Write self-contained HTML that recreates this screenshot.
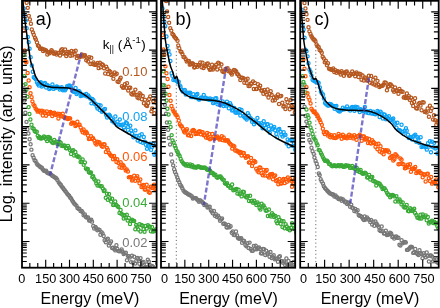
<!DOCTYPE html><html><head><meta charset="utf-8"><style>html,body{margin:0;padding:0;background:#fff;overflow:hidden}svg{display:block;will-change:transform}text{font-family:"Liberation Sans",sans-serif}</style></head><body>
<svg width="440" height="308" viewBox="0 0 440 308">
<defs><clipPath id="clipa"><rect x="22.0" y="0.8" width="134.60" height="266.90"/></clipPath></defs>
<g clip-path="url(#clipa)"><g fill="none" stroke="#777777" stroke-width="1.25"><circle cx="23.57" cy="85.30" r="1.6"/><circle cx="24.39" cy="100.40" r="1.6"/><circle cx="25.35" cy="112.71" r="1.6"/><circle cx="26.48" cy="121.88" r="1.6"/><circle cx="27.43" cy="129.18" r="1.6"/><circle cx="28.43" cy="133.56" r="1.6"/><circle cx="29.61" cy="139.27" r="1.6"/><circle cx="30.57" cy="144.18" r="1.6"/><circle cx="31.40" cy="149.64" r="1.6"/><circle cx="32.58" cy="155.28" r="1.6"/><circle cx="33.62" cy="157.80" r="1.6"/><circle cx="34.61" cy="160.30" r="1.6"/><circle cx="35.56" cy="161.03" r="1.6"/><circle cx="36.73" cy="163.45" r="1.6"/><circle cx="37.62" cy="164.82" r="1.6"/><circle cx="38.76" cy="165.62" r="1.6"/><circle cx="39.78" cy="166.52" r="1.6"/><circle cx="40.65" cy="167.23" r="1.6"/><circle cx="41.89" cy="167.65" r="1.6"/><circle cx="42.73" cy="169.37" r="1.6"/><circle cx="43.72" cy="170.59" r="1.6"/><circle cx="44.79" cy="170.93" r="1.6"/><circle cx="46.07" cy="170.80" r="1.6"/><circle cx="47.04" cy="172.43" r="1.6"/><circle cx="48.12" cy="173.19" r="1.6"/><circle cx="49.08" cy="173.22" r="1.6"/><circle cx="50.18" cy="173.69" r="1.6"/><circle cx="51.32" cy="174.69" r="1.6"/><circle cx="52.30" cy="175.75" r="1.6"/><circle cx="53.23" cy="176.30" r="1.6"/><circle cx="54.48" cy="177.15" r="1.6"/><circle cx="55.46" cy="177.73" r="1.6"/><circle cx="56.43" cy="178.40" r="1.6"/><circle cx="57.35" cy="180.05" r="1.6"/><circle cx="58.69" cy="182.36" r="1.6"/><circle cx="59.70" cy="183.74" r="1.6"/><circle cx="60.76" cy="184.76" r="1.6"/><circle cx="61.65" cy="186.52" r="1.6"/><circle cx="62.87" cy="187.67" r="1.6"/><circle cx="63.83" cy="189.15" r="1.6"/><circle cx="64.84" cy="190.45" r="1.6"/><circle cx="65.82" cy="191.65" r="1.6"/><circle cx="67.05" cy="193.41" r="1.6"/><circle cx="68.05" cy="194.64" r="1.6"/><circle cx="69.17" cy="195.81" r="1.6"/><circle cx="70.11" cy="197.56" r="1.6"/><circle cx="71.18" cy="198.49" r="1.6"/><circle cx="72.20" cy="200.43" r="1.6"/><circle cx="73.20" cy="202.06" r="1.6"/><circle cx="74.18" cy="203.46" r="1.6"/><circle cx="75.22" cy="204.46" r="1.6"/><circle cx="76.47" cy="205.61" r="1.6"/><circle cx="77.45" cy="207.98" r="1.6"/><circle cx="78.53" cy="208.79" r="1.6"/><circle cx="79.42" cy="209.05" r="1.6"/><circle cx="80.53" cy="211.09" r="1.6"/><circle cx="81.74" cy="210.99" r="1.6"/><circle cx="82.63" cy="212.35" r="1.6"/><circle cx="83.63" cy="215.22" r="1.6"/><circle cx="84.88" cy="214.41" r="1.6"/><circle cx="85.89" cy="216.93" r="1.6"/><circle cx="86.76" cy="217.46" r="1.6"/><circle cx="88.10" cy="217.52" r="1.6"/><circle cx="89.10" cy="220.62" r="1.6"/><circle cx="89.99" cy="220.46" r="1.6"/><circle cx="91.23" cy="219.65" r="1.6"/><circle cx="92.03" cy="221.64" r="1.6"/><circle cx="93.21" cy="226.06" r="1.6"/><circle cx="94.17" cy="228.56" r="1.6"/><circle cx="95.43" cy="227.08" r="1.6"/><circle cx="96.23" cy="228.30" r="1.6"/><circle cx="97.32" cy="230.34" r="1.6"/><circle cx="98.41" cy="229.51" r="1.6"/><circle cx="99.58" cy="230.05" r="1.6"/><circle cx="100.41" cy="234.66" r="1.6"/><circle cx="101.50" cy="232.10" r="1.6"/><circle cx="102.60" cy="233.59" r="1.6"/><circle cx="103.68" cy="236.01" r="1.6"/><circle cx="104.64" cy="240.21" r="1.6"/><circle cx="105.81" cy="242.33" r="1.6"/><circle cx="106.70" cy="239.48" r="1.6"/><circle cx="107.84" cy="238.79" r="1.6"/><circle cx="108.85" cy="245.54" r="1.6"/><circle cx="110.00" cy="243.20" r="1.6"/><circle cx="111.04" cy="241.58" r="1.6"/><circle cx="112.14" cy="248.03" r="1.6"/><circle cx="113.17" cy="247.81" r="1.6"/><circle cx="114.30" cy="249.24" r="1.6"/><circle cx="115.38" cy="250.40" r="1.6"/><circle cx="116.41" cy="245.29" r="1.6"/><circle cx="117.32" cy="248.98" r="1.6"/><circle cx="118.52" cy="251.05" r="1.6"/><circle cx="119.51" cy="251.25" r="1.6"/><circle cx="120.52" cy="251.02" r="1.6"/><circle cx="121.66" cy="249.46" r="1.6"/><circle cx="122.45" cy="251.83" r="1.6"/><circle cx="123.66" cy="254.04" r="1.6"/><circle cx="124.56" cy="253.08" r="1.6"/><circle cx="125.86" cy="252.78" r="1.6"/><circle cx="126.95" cy="260.19" r="1.6"/><circle cx="127.78" cy="255.86" r="1.6"/><circle cx="128.78" cy="256.30" r="1.6"/><circle cx="129.80" cy="257.43" r="1.6"/><circle cx="131.06" cy="262.12" r="1.6"/><circle cx="131.96" cy="255.72" r="1.6"/><circle cx="133.07" cy="262.76" r="1.6"/><circle cx="134.18" cy="256.81" r="1.6"/><circle cx="135.19" cy="263.59" r="1.6"/><circle cx="136.24" cy="261.01" r="1.6"/><circle cx="137.33" cy="258.02" r="1.6"/><circle cx="138.21" cy="259.22" r="1.6"/><circle cx="139.41" cy="263.79" r="1.6"/><circle cx="140.54" cy="258.11" r="1.6"/><circle cx="141.37" cy="266.61" r="1.6"/><circle cx="142.56" cy="262.96" r="1.6"/><circle cx="143.53" cy="261.97" r="1.6"/><circle cx="144.71" cy="267.69" r="1.6"/><circle cx="145.57" cy="266.89" r="1.6"/><circle cx="146.71" cy="264.53" r="1.6"/><circle cx="147.79" cy="259.82" r="1.6"/><circle cx="148.85" cy="261.71" r="1.6"/><circle cx="149.76" cy="265.04" r="1.6"/><circle cx="151.08" cy="269.79" r="1.6"/><circle cx="152.02" cy="265.96" r="1.6"/><circle cx="153.13" cy="266.90" r="1.6"/><circle cx="153.97" cy="271.23" r="1.6"/><circle cx="155.16" cy="268.96" r="1.6"/><circle cx="156.09" cy="271.11" r="1.6"/><circle cx="157.19" cy="263.25" r="1.6"/><circle cx="158.28" cy="262.92" r="1.6"/></g><g fill="none" stroke="#39a936" stroke-width="1.25"><circle cx="23.61" cy="54.97" r="1.6"/><circle cx="24.36" cy="76.11" r="1.6"/><circle cx="25.52" cy="84.10" r="1.6"/><circle cx="26.40" cy="89.71" r="1.6"/><circle cx="27.42" cy="96.75" r="1.6"/><circle cx="28.63" cy="107.11" r="1.6"/><circle cx="29.46" cy="113.95" r="1.6"/><circle cx="30.39" cy="119.42" r="1.6"/><circle cx="31.48" cy="124.81" r="1.6"/><circle cx="32.42" cy="128.10" r="1.6"/><circle cx="33.66" cy="128.75" r="1.6"/><circle cx="34.61" cy="130.94" r="1.6"/><circle cx="35.49" cy="131.68" r="1.6"/><circle cx="36.76" cy="131.68" r="1.6"/><circle cx="37.72" cy="135.82" r="1.6"/><circle cx="38.76" cy="137.81" r="1.6"/><circle cx="39.65" cy="137.08" r="1.6"/><circle cx="40.67" cy="138.43" r="1.6"/><circle cx="41.82" cy="138.35" r="1.6"/><circle cx="42.73" cy="137.72" r="1.6"/><circle cx="43.99" cy="136.44" r="1.6"/><circle cx="45.01" cy="137.10" r="1.6"/><circle cx="46.06" cy="139.09" r="1.6"/><circle cx="47.09" cy="141.12" r="1.6"/><circle cx="48.11" cy="136.88" r="1.6"/><circle cx="49.15" cy="137.46" r="1.6"/><circle cx="50.10" cy="137.96" r="1.6"/><circle cx="51.05" cy="141.04" r="1.6"/><circle cx="52.11" cy="142.19" r="1.6"/><circle cx="53.15" cy="142.92" r="1.6"/><circle cx="54.22" cy="140.04" r="1.6"/><circle cx="55.48" cy="142.25" r="1.6"/><circle cx="56.56" cy="141.79" r="1.6"/><circle cx="57.46" cy="144.02" r="1.6"/><circle cx="58.60" cy="144.21" r="1.6"/><circle cx="59.58" cy="141.94" r="1.6"/><circle cx="60.68" cy="142.71" r="1.6"/><circle cx="61.55" cy="145.75" r="1.6"/><circle cx="62.76" cy="146.01" r="1.6"/><circle cx="63.81" cy="145.35" r="1.6"/><circle cx="64.91" cy="145.60" r="1.6"/><circle cx="65.98" cy="148.14" r="1.6"/><circle cx="66.92" cy="148.39" r="1.6"/><circle cx="68.05" cy="145.99" r="1.6"/><circle cx="68.96" cy="147.94" r="1.6"/><circle cx="70.13" cy="150.22" r="1.6"/><circle cx="71.08" cy="154.09" r="1.6"/><circle cx="72.12" cy="151.00" r="1.6"/><circle cx="73.31" cy="150.11" r="1.6"/><circle cx="74.15" cy="155.52" r="1.6"/><circle cx="75.36" cy="151.95" r="1.6"/><circle cx="76.39" cy="155.31" r="1.6"/><circle cx="77.54" cy="156.71" r="1.6"/><circle cx="78.49" cy="156.43" r="1.6"/><circle cx="79.55" cy="157.58" r="1.6"/><circle cx="80.61" cy="161.98" r="1.6"/><circle cx="81.77" cy="161.66" r="1.6"/><circle cx="82.64" cy="159.42" r="1.6"/><circle cx="83.72" cy="164.86" r="1.6"/><circle cx="84.89" cy="162.49" r="1.6"/><circle cx="85.91" cy="168.56" r="1.6"/><circle cx="87.03" cy="169.40" r="1.6"/><circle cx="87.81" cy="169.04" r="1.6"/><circle cx="88.89" cy="172.20" r="1.6"/><circle cx="90.17" cy="172.90" r="1.6"/><circle cx="90.95" cy="172.41" r="1.6"/><circle cx="92.27" cy="176.97" r="1.6"/><circle cx="93.25" cy="176.16" r="1.6"/><circle cx="94.14" cy="178.98" r="1.6"/><circle cx="95.44" cy="180.52" r="1.6"/><circle cx="96.31" cy="183.37" r="1.6"/><circle cx="97.52" cy="185.58" r="1.6"/><circle cx="98.40" cy="181.55" r="1.6"/><circle cx="99.40" cy="185.61" r="1.6"/><circle cx="100.58" cy="186.18" r="1.6"/><circle cx="101.73" cy="186.12" r="1.6"/><circle cx="102.77" cy="188.54" r="1.6"/><circle cx="103.83" cy="190.94" r="1.6"/><circle cx="104.60" cy="190.33" r="1.6"/><circle cx="105.80" cy="197.68" r="1.6"/><circle cx="106.94" cy="193.72" r="1.6"/><circle cx="107.82" cy="199.72" r="1.6"/><circle cx="108.99" cy="194.07" r="1.6"/><circle cx="110.00" cy="198.16" r="1.6"/><circle cx="111.13" cy="201.47" r="1.6"/><circle cx="112.14" cy="198.76" r="1.6"/><circle cx="113.16" cy="205.05" r="1.6"/><circle cx="114.34" cy="204.67" r="1.6"/><circle cx="115.25" cy="201.42" r="1.6"/><circle cx="116.32" cy="204.90" r="1.6"/><circle cx="117.45" cy="206.10" r="1.6"/><circle cx="118.27" cy="207.07" r="1.6"/><circle cx="119.49" cy="213.05" r="1.6"/><circle cx="120.61" cy="210.08" r="1.6"/><circle cx="121.42" cy="213.75" r="1.6"/><circle cx="122.66" cy="214.69" r="1.6"/><circle cx="123.72" cy="218.45" r="1.6"/><circle cx="124.59" cy="215.27" r="1.6"/><circle cx="125.72" cy="217.63" r="1.6"/><circle cx="126.80" cy="214.77" r="1.6"/><circle cx="127.70" cy="220.53" r="1.6"/><circle cx="128.81" cy="218.00" r="1.6"/><circle cx="130.03" cy="224.07" r="1.6"/><circle cx="131.04" cy="221.00" r="1.6"/><circle cx="132.08" cy="219.81" r="1.6"/><circle cx="133.18" cy="220.79" r="1.6"/><circle cx="134.19" cy="221.07" r="1.6"/><circle cx="135.29" cy="229.24" r="1.6"/><circle cx="136.16" cy="224.94" r="1.6"/><circle cx="137.21" cy="226.48" r="1.6"/><circle cx="138.35" cy="229.45" r="1.6"/><circle cx="139.43" cy="224.32" r="1.6"/><circle cx="140.53" cy="231.53" r="1.6"/><circle cx="141.43" cy="224.98" r="1.6"/><circle cx="142.58" cy="225.69" r="1.6"/><circle cx="143.56" cy="229.15" r="1.6"/><circle cx="144.56" cy="231.74" r="1.6"/><circle cx="145.58" cy="225.94" r="1.6"/><circle cx="146.80" cy="228.49" r="1.6"/><circle cx="147.92" cy="225.30" r="1.6"/><circle cx="148.86" cy="226.56" r="1.6"/><circle cx="149.81" cy="226.67" r="1.6"/><circle cx="150.86" cy="231.21" r="1.6"/><circle cx="151.97" cy="227.05" r="1.6"/><circle cx="153.02" cy="231.63" r="1.6"/><circle cx="154.21" cy="230.89" r="1.6"/><circle cx="155.05" cy="230.51" r="1.6"/><circle cx="156.10" cy="229.10" r="1.6"/><circle cx="157.25" cy="230.87" r="1.6"/><circle cx="158.16" cy="227.20" r="1.6"/></g><g fill="none" stroke="#ff5705" stroke-width="1.25"><circle cx="23.62" cy="30.55" r="1.6"/><circle cx="24.65" cy="50.57" r="1.6"/><circle cx="25.48" cy="61.15" r="1.6"/><circle cx="26.44" cy="62.21" r="1.6"/><circle cx="27.64" cy="72.93" r="1.6"/><circle cx="28.63" cy="80.45" r="1.6"/><circle cx="29.57" cy="87.34" r="1.6"/><circle cx="30.55" cy="93.17" r="1.6"/><circle cx="31.60" cy="97.13" r="1.6"/><circle cx="32.39" cy="101.37" r="1.6"/><circle cx="33.45" cy="104.57" r="1.6"/><circle cx="34.56" cy="106.05" r="1.6"/><circle cx="35.62" cy="108.47" r="1.6"/><circle cx="36.69" cy="109.84" r="1.6"/><circle cx="37.66" cy="111.64" r="1.6"/><circle cx="38.61" cy="110.86" r="1.6"/><circle cx="39.56" cy="110.64" r="1.6"/><circle cx="40.65" cy="112.47" r="1.6"/><circle cx="41.91" cy="110.83" r="1.6"/><circle cx="42.81" cy="115.40" r="1.6"/><circle cx="43.93" cy="111.56" r="1.6"/><circle cx="44.92" cy="112.89" r="1.6"/><circle cx="46.09" cy="115.83" r="1.6"/><circle cx="46.86" cy="111.45" r="1.6"/><circle cx="48.19" cy="113.84" r="1.6"/><circle cx="49.24" cy="113.64" r="1.6"/><circle cx="50.28" cy="112.02" r="1.6"/><circle cx="51.33" cy="112.66" r="1.6"/><circle cx="52.23" cy="115.90" r="1.6"/><circle cx="53.27" cy="113.65" r="1.6"/><circle cx="54.24" cy="112.81" r="1.6"/><circle cx="55.28" cy="114.75" r="1.6"/><circle cx="56.39" cy="114.87" r="1.6"/><circle cx="57.64" cy="113.75" r="1.6"/><circle cx="58.41" cy="118.51" r="1.6"/><circle cx="59.45" cy="114.07" r="1.6"/><circle cx="60.75" cy="115.49" r="1.6"/><circle cx="61.62" cy="116.26" r="1.6"/><circle cx="62.75" cy="113.69" r="1.6"/><circle cx="63.67" cy="116.94" r="1.6"/><circle cx="64.73" cy="117.26" r="1.6"/><circle cx="65.89" cy="118.16" r="1.6"/><circle cx="66.93" cy="118.01" r="1.6"/><circle cx="67.92" cy="119.02" r="1.6"/><circle cx="68.94" cy="118.33" r="1.6"/><circle cx="70.17" cy="118.41" r="1.6"/><circle cx="71.18" cy="123.73" r="1.6"/><circle cx="72.07" cy="122.66" r="1.6"/><circle cx="73.27" cy="122.84" r="1.6"/><circle cx="74.33" cy="123.12" r="1.6"/><circle cx="75.38" cy="126.10" r="1.6"/><circle cx="76.28" cy="124.94" r="1.6"/><circle cx="77.37" cy="121.84" r="1.6"/><circle cx="78.49" cy="124.85" r="1.6"/><circle cx="79.61" cy="124.84" r="1.6"/><circle cx="80.66" cy="127.49" r="1.6"/><circle cx="81.79" cy="130.36" r="1.6"/><circle cx="82.68" cy="132.20" r="1.6"/><circle cx="83.60" cy="129.55" r="1.6"/><circle cx="84.89" cy="133.28" r="1.6"/><circle cx="85.97" cy="131.63" r="1.6"/><circle cx="86.87" cy="133.05" r="1.6"/><circle cx="87.97" cy="135.49" r="1.6"/><circle cx="88.90" cy="139.02" r="1.6"/><circle cx="90.03" cy="138.77" r="1.6"/><circle cx="91.02" cy="136.13" r="1.6"/><circle cx="92.17" cy="138.79" r="1.6"/><circle cx="93.05" cy="138.29" r="1.6"/><circle cx="94.25" cy="140.59" r="1.6"/><circle cx="95.35" cy="143.33" r="1.6"/><circle cx="96.44" cy="144.41" r="1.6"/><circle cx="97.34" cy="141.69" r="1.6"/><circle cx="98.47" cy="142.15" r="1.6"/><circle cx="99.51" cy="142.54" r="1.6"/><circle cx="100.59" cy="144.35" r="1.6"/><circle cx="101.67" cy="146.03" r="1.6"/><circle cx="102.74" cy="146.79" r="1.6"/><circle cx="103.82" cy="144.15" r="1.6"/><circle cx="104.61" cy="144.57" r="1.6"/><circle cx="105.90" cy="151.91" r="1.6"/><circle cx="106.88" cy="147.85" r="1.6"/><circle cx="107.83" cy="149.74" r="1.6"/><circle cx="109.05" cy="152.94" r="1.6"/><circle cx="109.95" cy="154.44" r="1.6"/><circle cx="110.98" cy="155.82" r="1.6"/><circle cx="112.10" cy="156.00" r="1.6"/><circle cx="113.07" cy="159.34" r="1.6"/><circle cx="114.06" cy="156.09" r="1.6"/><circle cx="115.20" cy="158.71" r="1.6"/><circle cx="116.45" cy="162.05" r="1.6"/><circle cx="117.21" cy="159.18" r="1.6"/><circle cx="118.53" cy="163.03" r="1.6"/><circle cx="119.53" cy="167.23" r="1.6"/><circle cx="120.65" cy="162.21" r="1.6"/><circle cx="121.60" cy="167.72" r="1.6"/><circle cx="122.53" cy="164.62" r="1.6"/><circle cx="123.53" cy="165.74" r="1.6"/><circle cx="124.58" cy="167.78" r="1.6"/><circle cx="125.73" cy="170.49" r="1.6"/><circle cx="126.71" cy="169.41" r="1.6"/><circle cx="127.94" cy="171.48" r="1.6"/><circle cx="128.83" cy="177.35" r="1.6"/><circle cx="129.96" cy="176.85" r="1.6"/><circle cx="130.92" cy="177.18" r="1.6"/><circle cx="132.04" cy="180.50" r="1.6"/><circle cx="133.01" cy="179.42" r="1.6"/><circle cx="134.16" cy="175.63" r="1.6"/><circle cx="135.19" cy="180.85" r="1.6"/><circle cx="136.24" cy="178.03" r="1.6"/><circle cx="137.27" cy="176.18" r="1.6"/><circle cx="138.29" cy="180.39" r="1.6"/><circle cx="139.52" cy="183.31" r="1.6"/><circle cx="140.30" cy="179.47" r="1.6"/><circle cx="141.56" cy="186.94" r="1.6"/><circle cx="142.46" cy="185.74" r="1.6"/><circle cx="143.71" cy="185.01" r="1.6"/><circle cx="144.70" cy="189.46" r="1.6"/><circle cx="145.57" cy="189.49" r="1.6"/><circle cx="146.66" cy="184.67" r="1.6"/><circle cx="147.72" cy="188.67" r="1.6"/><circle cx="148.71" cy="192.10" r="1.6"/><circle cx="149.81" cy="192.70" r="1.6"/><circle cx="150.87" cy="186.69" r="1.6"/><circle cx="152.11" cy="187.93" r="1.6"/><circle cx="153.00" cy="186.64" r="1.6"/><circle cx="154.10" cy="184.60" r="1.6"/><circle cx="155.21" cy="189.15" r="1.6"/><circle cx="156.12" cy="188.40" r="1.6"/><circle cx="157.27" cy="186.89" r="1.6"/><circle cx="158.41" cy="195.92" r="1.6"/></g><g fill="none" stroke="#0ea2f6" stroke-width="1.25"><circle cx="23.75" cy="8.41" r="1.6"/><circle cx="24.63" cy="15.64" r="1.6"/><circle cx="25.71" cy="20.42" r="1.6"/><circle cx="26.66" cy="28.24" r="1.6"/><circle cx="27.82" cy="37.08" r="1.6"/><circle cx="28.66" cy="42.31" r="1.6"/><circle cx="29.59" cy="48.69" r="1.6"/><circle cx="30.67" cy="57.21" r="1.6"/><circle cx="31.83" cy="65.47" r="1.6"/><circle cx="32.79" cy="71.82" r="1.6"/><circle cx="33.73" cy="77.24" r="1.6"/><circle cx="34.69" cy="77.99" r="1.6"/><circle cx="35.75" cy="79.33" r="1.6"/><circle cx="36.96" cy="82.31" r="1.6"/><circle cx="37.89" cy="84.02" r="1.6"/><circle cx="38.84" cy="85.40" r="1.6"/><circle cx="40.00" cy="82.99" r="1.6"/><circle cx="40.83" cy="82.11" r="1.6"/><circle cx="41.83" cy="86.41" r="1.6"/><circle cx="42.90" cy="85.55" r="1.6"/><circle cx="43.98" cy="83.76" r="1.6"/><circle cx="44.99" cy="82.99" r="1.6"/><circle cx="46.13" cy="87.53" r="1.6"/><circle cx="47.09" cy="84.94" r="1.6"/><circle cx="48.40" cy="86.07" r="1.6"/><circle cx="49.23" cy="89.06" r="1.6"/><circle cx="50.27" cy="88.13" r="1.6"/><circle cx="51.56" cy="87.28" r="1.6"/><circle cx="52.41" cy="84.39" r="1.6"/><circle cx="53.38" cy="88.88" r="1.6"/><circle cx="54.65" cy="87.51" r="1.6"/><circle cx="55.67" cy="87.98" r="1.6"/><circle cx="56.68" cy="86.55" r="1.6"/><circle cx="57.64" cy="86.95" r="1.6"/><circle cx="58.76" cy="87.61" r="1.6"/><circle cx="59.73" cy="89.49" r="1.6"/><circle cx="60.96" cy="88.21" r="1.6"/><circle cx="61.76" cy="87.24" r="1.6"/><circle cx="62.90" cy="90.23" r="1.6"/><circle cx="63.89" cy="89.50" r="1.6"/><circle cx="65.05" cy="90.34" r="1.6"/><circle cx="66.15" cy="88.52" r="1.6"/><circle cx="67.10" cy="86.25" r="1.6"/><circle cx="68.34" cy="86.12" r="1.6"/><circle cx="69.16" cy="85.51" r="1.6"/><circle cx="70.31" cy="86.02" r="1.6"/><circle cx="71.32" cy="88.03" r="1.6"/><circle cx="72.54" cy="91.07" r="1.6"/><circle cx="73.41" cy="91.61" r="1.6"/><circle cx="74.40" cy="91.98" r="1.6"/><circle cx="75.58" cy="87.91" r="1.6"/><circle cx="76.62" cy="94.10" r="1.6"/><circle cx="77.71" cy="92.74" r="1.6"/><circle cx="78.82" cy="90.88" r="1.6"/><circle cx="79.86" cy="92.28" r="1.6"/><circle cx="80.68" cy="96.12" r="1.6"/><circle cx="81.87" cy="95.45" r="1.6"/><circle cx="82.81" cy="94.67" r="1.6"/><circle cx="84.06" cy="94.91" r="1.6"/><circle cx="84.89" cy="95.44" r="1.6"/><circle cx="86.15" cy="94.00" r="1.6"/><circle cx="87.16" cy="96.42" r="1.6"/><circle cx="88.27" cy="95.41" r="1.6"/><circle cx="89.28" cy="97.29" r="1.6"/><circle cx="90.32" cy="98.44" r="1.6"/><circle cx="91.41" cy="103.35" r="1.6"/><circle cx="92.29" cy="98.95" r="1.6"/><circle cx="93.45" cy="100.26" r="1.6"/><circle cx="94.35" cy="103.75" r="1.6"/><circle cx="95.57" cy="103.71" r="1.6"/><circle cx="96.71" cy="106.50" r="1.6"/><circle cx="97.48" cy="108.55" r="1.6"/><circle cx="98.77" cy="105.05" r="1.6"/><circle cx="99.70" cy="110.11" r="1.6"/><circle cx="100.62" cy="105.57" r="1.6"/><circle cx="101.85" cy="111.80" r="1.6"/><circle cx="102.71" cy="110.83" r="1.6"/><circle cx="103.82" cy="109.84" r="1.6"/><circle cx="104.99" cy="108.91" r="1.6"/><circle cx="105.96" cy="114.80" r="1.6"/><circle cx="107.08" cy="117.57" r="1.6"/><circle cx="108.25" cy="115.78" r="1.6"/><circle cx="109.15" cy="114.67" r="1.6"/><circle cx="110.10" cy="115.98" r="1.6"/><circle cx="111.24" cy="118.34" r="1.6"/><circle cx="112.27" cy="121.29" r="1.6"/><circle cx="113.28" cy="120.22" r="1.6"/><circle cx="114.39" cy="122.79" r="1.6"/><circle cx="115.37" cy="116.49" r="1.6"/><circle cx="116.58" cy="124.50" r="1.6"/><circle cx="117.54" cy="121.83" r="1.6"/><circle cx="118.53" cy="124.60" r="1.6"/><circle cx="119.78" cy="119.43" r="1.6"/><circle cx="120.66" cy="124.97" r="1.6"/><circle cx="121.90" cy="125.31" r="1.6"/><circle cx="122.92" cy="124.36" r="1.6"/><circle cx="123.90" cy="127.43" r="1.6"/><circle cx="125.04" cy="129.91" r="1.6"/><circle cx="125.87" cy="123.03" r="1.6"/><circle cx="126.95" cy="123.14" r="1.6"/><circle cx="128.16" cy="126.99" r="1.6"/><circle cx="129.20" cy="132.56" r="1.6"/><circle cx="130.29" cy="125.81" r="1.6"/><circle cx="131.11" cy="130.38" r="1.6"/><circle cx="132.14" cy="133.69" r="1.6"/><circle cx="133.44" cy="137.23" r="1.6"/><circle cx="134.47" cy="135.60" r="1.6"/><circle cx="135.41" cy="130.39" r="1.6"/><circle cx="136.41" cy="135.99" r="1.6"/><circle cx="137.61" cy="140.43" r="1.6"/><circle cx="138.53" cy="138.03" r="1.6"/><circle cx="139.53" cy="135.51" r="1.6"/><circle cx="140.51" cy="141.89" r="1.6"/><circle cx="141.76" cy="134.32" r="1.6"/><circle cx="142.84" cy="142.72" r="1.6"/><circle cx="143.79" cy="137.03" r="1.6"/><circle cx="144.86" cy="141.82" r="1.6"/><circle cx="145.86" cy="144.75" r="1.6"/><circle cx="146.99" cy="148.86" r="1.6"/><circle cx="148.05" cy="145.40" r="1.6"/><circle cx="148.96" cy="146.45" r="1.6"/><circle cx="150.08" cy="143.72" r="1.6"/><circle cx="151.12" cy="149.90" r="1.6"/><circle cx="152.06" cy="147.06" r="1.6"/><circle cx="153.16" cy="144.09" r="1.6"/><circle cx="154.36" cy="154.68" r="1.6"/><circle cx="155.44" cy="153.51" r="1.6"/><circle cx="156.46" cy="151.92" r="1.6"/><circle cx="157.51" cy="154.57" r="1.6"/><circle cx="158.59" cy="152.45" r="1.6"/></g><g fill="none" stroke="#b5571f" stroke-width="1.25"><circle cx="26.68" cy="2.68" r="1.6"/><circle cx="27.77" cy="7.87" r="1.6"/><circle cx="28.84" cy="15.85" r="1.6"/><circle cx="29.94" cy="19.40" r="1.6"/><circle cx="30.92" cy="23.79" r="1.6"/><circle cx="31.79" cy="29.45" r="1.6"/><circle cx="32.95" cy="32.36" r="1.6"/><circle cx="33.76" cy="34.70" r="1.6"/><circle cx="35.00" cy="37.75" r="1.6"/><circle cx="35.84" cy="39.46" r="1.6"/><circle cx="36.97" cy="42.58" r="1.6"/><circle cx="37.94" cy="45.41" r="1.6"/><circle cx="38.97" cy="46.25" r="1.6"/><circle cx="40.00" cy="48.70" r="1.6"/><circle cx="41.19" cy="48.82" r="1.6"/><circle cx="42.10" cy="48.83" r="1.6"/><circle cx="43.11" cy="51.10" r="1.6"/><circle cx="44.16" cy="49.53" r="1.6"/><circle cx="45.17" cy="50.25" r="1.6"/><circle cx="46.17" cy="50.43" r="1.6"/><circle cx="47.32" cy="54.45" r="1.6"/><circle cx="48.24" cy="52.18" r="1.6"/><circle cx="49.44" cy="53.36" r="1.6"/><circle cx="50.38" cy="51.61" r="1.6"/><circle cx="51.51" cy="50.30" r="1.6"/><circle cx="52.50" cy="51.47" r="1.6"/><circle cx="53.49" cy="53.48" r="1.6"/><circle cx="54.66" cy="53.55" r="1.6"/><circle cx="55.58" cy="52.40" r="1.6"/><circle cx="56.61" cy="54.56" r="1.6"/><circle cx="57.76" cy="53.08" r="1.6"/><circle cx="58.78" cy="52.94" r="1.6"/><circle cx="60.05" cy="55.50" r="1.6"/><circle cx="61.10" cy="50.17" r="1.6"/><circle cx="62.13" cy="49.32" r="1.6"/><circle cx="63.07" cy="53.64" r="1.6"/><circle cx="64.03" cy="53.06" r="1.6"/><circle cx="65.11" cy="49.37" r="1.6"/><circle cx="66.23" cy="56.08" r="1.6"/><circle cx="67.20" cy="53.66" r="1.6"/><circle cx="68.26" cy="52.06" r="1.6"/><circle cx="69.48" cy="52.51" r="1.6"/><circle cx="70.34" cy="55.76" r="1.6"/><circle cx="71.52" cy="50.94" r="1.6"/><circle cx="72.43" cy="55.38" r="1.6"/><circle cx="73.71" cy="51.82" r="1.6"/><circle cx="74.62" cy="53.99" r="1.6"/><circle cx="75.67" cy="50.71" r="1.6"/><circle cx="76.79" cy="58.05" r="1.6"/><circle cx="77.81" cy="55.97" r="1.6"/><circle cx="78.79" cy="56.09" r="1.6"/><circle cx="79.82" cy="57.17" r="1.6"/><circle cx="80.86" cy="55.92" r="1.6"/><circle cx="81.87" cy="54.36" r="1.6"/><circle cx="83.03" cy="56.58" r="1.6"/><circle cx="83.99" cy="55.49" r="1.6"/><circle cx="84.98" cy="55.17" r="1.6"/><circle cx="86.24" cy="60.15" r="1.6"/><circle cx="87.11" cy="58.51" r="1.6"/><circle cx="88.22" cy="61.50" r="1.6"/><circle cx="89.18" cy="57.12" r="1.6"/><circle cx="90.41" cy="64.06" r="1.6"/><circle cx="91.27" cy="57.83" r="1.6"/><circle cx="92.47" cy="64.01" r="1.6"/><circle cx="93.47" cy="62.59" r="1.6"/><circle cx="94.56" cy="64.65" r="1.6"/><circle cx="95.71" cy="64.49" r="1.6"/><circle cx="96.63" cy="64.67" r="1.6"/><circle cx="97.73" cy="63.00" r="1.6"/><circle cx="98.63" cy="68.13" r="1.6"/><circle cx="99.90" cy="62.69" r="1.6"/><circle cx="100.79" cy="67.34" r="1.6"/><circle cx="101.96" cy="64.15" r="1.6"/><circle cx="103.03" cy="65.07" r="1.6"/><circle cx="104.06" cy="68.32" r="1.6"/><circle cx="105.18" cy="73.40" r="1.6"/><circle cx="106.23" cy="66.72" r="1.6"/><circle cx="107.25" cy="69.05" r="1.6"/><circle cx="108.15" cy="74.00" r="1.6"/><circle cx="109.31" cy="70.85" r="1.6"/><circle cx="110.44" cy="72.02" r="1.6"/><circle cx="111.27" cy="74.90" r="1.6"/><circle cx="112.42" cy="74.22" r="1.6"/><circle cx="113.40" cy="78.75" r="1.6"/><circle cx="114.61" cy="72.38" r="1.6"/><circle cx="115.54" cy="74.62" r="1.6"/><circle cx="116.74" cy="73.69" r="1.6"/><circle cx="117.52" cy="81.61" r="1.6"/><circle cx="118.62" cy="82.04" r="1.6"/><circle cx="119.84" cy="79.59" r="1.6"/><circle cx="120.68" cy="77.80" r="1.6"/><circle cx="121.89" cy="86.16" r="1.6"/><circle cx="123.02" cy="87.67" r="1.6"/><circle cx="123.95" cy="87.31" r="1.6"/><circle cx="124.87" cy="84.23" r="1.6"/><circle cx="126.12" cy="87.82" r="1.6"/><circle cx="126.99" cy="83.32" r="1.6"/><circle cx="128.22" cy="90.60" r="1.6"/><circle cx="129.19" cy="87.61" r="1.6"/><circle cx="130.29" cy="87.66" r="1.6"/><circle cx="131.33" cy="93.78" r="1.6"/><circle cx="132.26" cy="94.62" r="1.6"/><circle cx="133.50" cy="92.66" r="1.6"/><circle cx="134.57" cy="94.57" r="1.6"/><circle cx="135.38" cy="89.61" r="1.6"/><circle cx="136.60" cy="94.85" r="1.6"/><circle cx="137.47" cy="97.56" r="1.6"/><circle cx="138.66" cy="98.28" r="1.6"/><circle cx="139.59" cy="93.11" r="1.6"/><circle cx="140.62" cy="94.47" r="1.6"/><circle cx="141.88" cy="99.23" r="1.6"/><circle cx="142.74" cy="95.98" r="1.6"/><circle cx="143.89" cy="103.19" r="1.6"/><circle cx="144.99" cy="99.70" r="1.6"/><circle cx="146.07" cy="105.20" r="1.6"/><circle cx="147.13" cy="105.94" r="1.6"/><circle cx="148.20" cy="102.95" r="1.6"/><circle cx="149.13" cy="98.97" r="1.6"/><circle cx="150.22" cy="96.44" r="1.6"/><circle cx="151.40" cy="111.36" r="1.6"/><circle cx="152.24" cy="108.50" r="1.6"/><circle cx="153.22" cy="101.03" r="1.6"/><circle cx="154.35" cy="113.32" r="1.6"/><circle cx="155.60" cy="99.58" r="1.6"/><circle cx="156.40" cy="102.85" r="1.6"/><circle cx="157.67" cy="113.62" r="1.6"/></g><path d="M22.70 -2.00 C22.88 0.00 23.45 6.33 23.80 10.00 C24.15 13.67 24.40 16.67 24.80 20.00 C25.20 23.33 25.73 26.67 26.20 30.00 C26.67 33.33 27.15 36.83 27.60 40.00 C28.05 43.17 28.40 45.50 28.90 49.00 C29.40 52.50 29.92 57.83 30.60 61.00 C31.28 64.17 32.42 66.17 33.00 68.00 C33.58 69.83 33.58 70.42 34.10 72.00 C34.62 73.58 35.30 75.92 36.10 77.50 C36.90 79.08 37.87 80.32 38.90 81.50 C39.93 82.68 41.05 83.80 42.30 84.60 C43.55 85.40 44.82 85.85 46.40 86.30 C47.98 86.75 49.53 87.07 51.80 87.30 C54.07 87.53 57.27 87.58 60.00 87.70 C62.73 87.82 65.62 87.62 68.20 88.00 C70.78 88.38 73.23 89.13 75.50 90.00 C77.77 90.87 79.35 91.70 81.80 93.20 C84.25 94.70 88.00 97.28 90.20 99.00 C92.40 100.72 92.95 101.52 95.00 103.50 C97.05 105.48 100.27 108.65 102.50 110.90 C104.73 113.15 106.52 115.02 108.40 117.00 C110.28 118.98 112.37 121.13 113.80 122.80 C115.23 124.47 115.63 125.80 117.00 127.00 C118.37 128.20 120.32 129.00 122.00 130.00 C123.68 131.00 125.42 132.00 127.10 133.00 C128.78 134.00 130.43 135.05 132.10 136.00 C133.77 136.95 135.42 137.92 137.10 138.70 C138.78 139.48 140.52 140.12 142.20 140.70 C143.88 141.28 145.53 141.62 147.20 142.20 C148.87 142.78 150.57 143.65 152.20 144.20 C153.83 144.75 156.20 145.28 157.00 145.50" fill="none" stroke="#000" stroke-width="1.5"/><line x1="81.4" y1="52.7" x2="49.9" y2="175.5" stroke="#4a40b8" stroke-opacity="0.72" stroke-width="2.4" stroke-dasharray="5 2.2"/></g>
<path d="M29.84 267.7V263.10M29.84 0.8V5.40M37.77 267.7V263.10M37.77 0.8V5.40M45.70 267.7V259.70M45.70 0.8V8.80M53.64 267.7V263.10M53.64 0.8V5.40M61.58 267.7V263.10M61.58 0.8V5.40M69.51 267.7V259.70M69.51 0.8V8.80M77.44 267.7V263.10M77.44 0.8V5.40M85.38 267.7V263.10M85.38 0.8V5.40M93.31 267.7V259.70M93.31 0.8V8.80M101.25 267.7V263.10M101.25 0.8V5.40M109.19 267.7V263.10M109.19 0.8V5.40M117.12 267.7V259.70M117.12 0.8V8.80M125.06 267.7V263.10M125.06 0.8V5.40M132.99 267.7V263.10M132.99 0.8V5.40M140.93 267.7V259.70M140.93 0.8V8.80M148.86 267.7V263.10M148.86 0.8V5.40M22.0 11.80H29.50M156.6 11.80H149.10M22.0 38.56H26.80M156.6 38.56H151.80M22.0 31.82H26.80M156.6 31.82H151.80M22.0 27.03H26.80M156.6 27.03H151.80M22.0 23.32H26.80M156.6 23.32H151.80M22.0 20.29H26.80M156.6 20.29H151.80M22.0 17.73H26.80M156.6 17.73H151.80M22.0 15.51H26.80M156.6 15.51H151.80M22.0 13.55H26.80M156.6 13.55H151.80M22.0 50.08H29.50M156.6 50.08H149.10M22.0 76.84H26.80M156.6 76.84H151.80M22.0 70.10H26.80M156.6 70.10H151.80M22.0 65.31H26.80M156.6 65.31H151.80M22.0 61.60H26.80M156.6 61.60H151.80M22.0 58.57H26.80M156.6 58.57H151.80M22.0 56.01H26.80M156.6 56.01H151.80M22.0 53.79H26.80M156.6 53.79H151.80M22.0 51.83H26.80M156.6 51.83H151.80M22.0 88.36H29.50M156.6 88.36H149.10M22.0 115.12H26.80M156.6 115.12H151.80M22.0 108.38H26.80M156.6 108.38H151.80M22.0 103.59H26.80M156.6 103.59H151.80M22.0 99.88H26.80M156.6 99.88H151.80M22.0 96.85H26.80M156.6 96.85H151.80M22.0 94.29H26.80M156.6 94.29H151.80M22.0 92.07H26.80M156.6 92.07H151.80M22.0 90.11H26.80M156.6 90.11H151.80M22.0 126.64H29.50M156.6 126.64H149.10M22.0 153.40H26.80M156.6 153.40H151.80M22.0 146.66H26.80M156.6 146.66H151.80M22.0 141.87H26.80M156.6 141.87H151.80M22.0 138.16H26.80M156.6 138.16H151.80M22.0 135.13H26.80M156.6 135.13H151.80M22.0 132.57H26.80M156.6 132.57H151.80M22.0 130.35H26.80M156.6 130.35H151.80M22.0 128.39H26.80M156.6 128.39H151.80M22.0 164.92H29.50M156.6 164.92H149.10M22.0 191.68H26.80M156.6 191.68H151.80M22.0 184.94H26.80M156.6 184.94H151.80M22.0 180.15H26.80M156.6 180.15H151.80M22.0 176.44H26.80M156.6 176.44H151.80M22.0 173.41H26.80M156.6 173.41H151.80M22.0 170.85H26.80M156.6 170.85H151.80M22.0 168.63H26.80M156.6 168.63H151.80M22.0 166.67H26.80M156.6 166.67H151.80M22.0 203.20H29.50M156.6 203.20H149.10M22.0 229.96H26.80M156.6 229.96H151.80M22.0 223.22H26.80M156.6 223.22H151.80M22.0 218.43H26.80M156.6 218.43H151.80M22.0 214.72H26.80M156.6 214.72H151.80M22.0 211.69H26.80M156.6 211.69H151.80M22.0 209.13H26.80M156.6 209.13H151.80M22.0 206.91H26.80M156.6 206.91H151.80M22.0 204.95H26.80M156.6 204.95H151.80M22.0 241.48H29.50M156.6 241.48H149.10M22.0 261.50H26.80M156.6 261.50H151.80M22.0 256.71H26.80M156.6 256.71H151.80M22.0 253.00H26.80M156.6 253.00H151.80M22.0 249.97H26.80M156.6 249.97H151.80M22.0 247.41H26.80M156.6 247.41H151.80M22.0 245.19H26.80M156.6 245.19H151.80M22.0 243.23H26.80M156.6 243.23H151.80" stroke="#000" stroke-width="1.15" fill="none"/>
<rect x="22.0" y="0.8" width="134.60" height="266.90" fill="none" stroke="#000" stroke-width="1.8"/>
<text x="21.90" y="283.4" font-size="12.7" text-anchor="middle">0</text>
<text x="45.70" y="283.4" font-size="12.7" text-anchor="middle">150</text>
<text x="69.51" y="283.4" font-size="12.7" text-anchor="middle">300</text>
<text x="93.31" y="283.4" font-size="12.7" text-anchor="middle">450</text>
<text x="117.12" y="283.4" font-size="12.7" text-anchor="middle">600</text>
<text x="140.93" y="283.4" font-size="12.7" text-anchor="middle">750</text>
<text x="89.9" y="304" font-size="16" text-anchor="middle">Energy (meV)</text>
<text x="35.8" y="25" font-size="18">a)</text>
<defs><clipPath id="clipb"><rect x="161.0" y="0.8" width="134.20" height="266.90"/></clipPath></defs>
<line x1="176.30" y1="47.5" x2="176.30" y2="267.7" stroke="#555" stroke-width="0.9" stroke-dasharray="1.1 2.6"/>
<g clip-path="url(#clipb)"><g fill="none" stroke="#777777" stroke-width="1.25"><circle cx="163.00" cy="84.99" r="1.6"/><circle cx="163.92" cy="95.01" r="1.6"/><circle cx="164.93" cy="104.67" r="1.6"/><circle cx="166.07" cy="113.68" r="1.6"/><circle cx="166.86" cy="122.41" r="1.6"/><circle cx="168.14" cy="129.79" r="1.6"/><circle cx="168.86" cy="138.09" r="1.6"/><circle cx="170.02" cy="144.52" r="1.6"/><circle cx="171.18" cy="154.54" r="1.6"/><circle cx="172.19" cy="161.44" r="1.6"/><circle cx="173.18" cy="165.37" r="1.6"/><circle cx="174.18" cy="169.21" r="1.6"/><circle cx="174.97" cy="172.02" r="1.6"/><circle cx="176.24" cy="174.45" r="1.6"/><circle cx="177.29" cy="177.44" r="1.6"/><circle cx="178.15" cy="180.09" r="1.6"/><circle cx="179.32" cy="182.13" r="1.6"/><circle cx="180.23" cy="184.72" r="1.6"/><circle cx="181.38" cy="186.31" r="1.6"/><circle cx="182.31" cy="188.14" r="1.6"/><circle cx="183.44" cy="190.52" r="1.6"/><circle cx="184.56" cy="191.78" r="1.6"/><circle cx="185.55" cy="192.48" r="1.6"/><circle cx="186.46" cy="193.07" r="1.6"/><circle cx="187.57" cy="193.67" r="1.6"/><circle cx="188.57" cy="194.61" r="1.6"/><circle cx="189.57" cy="194.78" r="1.6"/><circle cx="190.59" cy="195.46" r="1.6"/><circle cx="191.77" cy="196.22" r="1.6"/><circle cx="192.84" cy="198.45" r="1.6"/><circle cx="193.87" cy="198.08" r="1.6"/><circle cx="194.96" cy="197.86" r="1.6"/><circle cx="196.00" cy="198.23" r="1.6"/><circle cx="197.07" cy="199.47" r="1.6"/><circle cx="198.21" cy="200.43" r="1.6"/><circle cx="198.99" cy="201.87" r="1.6"/><circle cx="200.03" cy="200.32" r="1.6"/><circle cx="201.23" cy="201.12" r="1.6"/><circle cx="202.37" cy="202.29" r="1.6"/><circle cx="203.17" cy="202.90" r="1.6"/><circle cx="204.30" cy="205.00" r="1.6"/><circle cx="205.41" cy="204.40" r="1.6"/><circle cx="206.45" cy="205.18" r="1.6"/><circle cx="207.51" cy="207.44" r="1.6"/><circle cx="208.60" cy="206.91" r="1.6"/><circle cx="209.71" cy="206.75" r="1.6"/><circle cx="210.79" cy="210.34" r="1.6"/><circle cx="211.74" cy="211.50" r="1.6"/><circle cx="212.70" cy="213.37" r="1.6"/><circle cx="213.95" cy="211.03" r="1.6"/><circle cx="214.85" cy="215.67" r="1.6"/><circle cx="215.90" cy="214.24" r="1.6"/><circle cx="217.00" cy="216.91" r="1.6"/><circle cx="218.08" cy="215.72" r="1.6"/><circle cx="219.11" cy="217.76" r="1.6"/><circle cx="220.06" cy="220.77" r="1.6"/><circle cx="221.12" cy="219.43" r="1.6"/><circle cx="222.08" cy="218.50" r="1.6"/><circle cx="223.25" cy="223.85" r="1.6"/><circle cx="224.28" cy="223.57" r="1.6"/><circle cx="225.44" cy="224.13" r="1.6"/><circle cx="226.55" cy="227.23" r="1.6"/><circle cx="227.38" cy="227.45" r="1.6"/><circle cx="228.50" cy="225.02" r="1.6"/><circle cx="229.46" cy="227.20" r="1.6"/><circle cx="230.62" cy="226.27" r="1.6"/><circle cx="231.74" cy="232.76" r="1.6"/><circle cx="232.86" cy="231.49" r="1.6"/><circle cx="233.71" cy="234.88" r="1.6"/><circle cx="234.78" cy="235.15" r="1.6"/><circle cx="235.97" cy="231.51" r="1.6"/><circle cx="237.06" cy="235.50" r="1.6"/><circle cx="237.96" cy="237.95" r="1.6"/><circle cx="239.12" cy="238.78" r="1.6"/><circle cx="239.94" cy="238.54" r="1.6"/><circle cx="241.26" cy="238.26" r="1.6"/><circle cx="242.04" cy="242.76" r="1.6"/><circle cx="243.26" cy="240.83" r="1.6"/><circle cx="244.15" cy="240.91" r="1.6"/><circle cx="245.37" cy="244.98" r="1.6"/><circle cx="246.42" cy="246.21" r="1.6"/><circle cx="247.56" cy="243.11" r="1.6"/><circle cx="248.59" cy="247.97" r="1.6"/><circle cx="249.56" cy="242.61" r="1.6"/><circle cx="250.70" cy="248.96" r="1.6"/><circle cx="251.74" cy="250.74" r="1.6"/><circle cx="252.79" cy="250.81" r="1.6"/><circle cx="253.84" cy="245.85" r="1.6"/><circle cx="254.82" cy="249.34" r="1.6"/><circle cx="255.72" cy="245.64" r="1.6"/><circle cx="256.77" cy="249.27" r="1.6"/><circle cx="257.88" cy="248.03" r="1.6"/><circle cx="259.02" cy="247.59" r="1.6"/><circle cx="259.97" cy="249.07" r="1.6"/><circle cx="260.95" cy="253.19" r="1.6"/><circle cx="262.12" cy="253.46" r="1.6"/><circle cx="263.03" cy="249.09" r="1.6"/><circle cx="264.09" cy="249.17" r="1.6"/><circle cx="265.26" cy="255.12" r="1.6"/><circle cx="266.22" cy="250.75" r="1.6"/><circle cx="267.47" cy="254.30" r="1.6"/><circle cx="268.35" cy="252.76" r="1.6"/><circle cx="269.57" cy="256.65" r="1.6"/><circle cx="270.46" cy="252.02" r="1.6"/><circle cx="271.66" cy="257.93" r="1.6"/><circle cx="272.51" cy="256.44" r="1.6"/><circle cx="273.72" cy="255.26" r="1.6"/><circle cx="274.73" cy="259.15" r="1.6"/><circle cx="275.83" cy="258.42" r="1.6"/><circle cx="276.84" cy="259.04" r="1.6"/><circle cx="277.95" cy="261.83" r="1.6"/><circle cx="278.97" cy="256.88" r="1.6"/><circle cx="279.87" cy="256.22" r="1.6"/><circle cx="281.14" cy="261.02" r="1.6"/><circle cx="282.12" cy="261.32" r="1.6"/><circle cx="283.07" cy="262.75" r="1.6"/><circle cx="284.13" cy="261.57" r="1.6"/><circle cx="285.17" cy="265.06" r="1.6"/><circle cx="286.38" cy="258.46" r="1.6"/><circle cx="287.24" cy="264.47" r="1.6"/><circle cx="288.47" cy="261.02" r="1.6"/><circle cx="289.48" cy="264.16" r="1.6"/><circle cx="290.46" cy="264.00" r="1.6"/><circle cx="291.54" cy="265.63" r="1.6"/><circle cx="292.65" cy="267.47" r="1.6"/><circle cx="293.73" cy="261.98" r="1.6"/><circle cx="294.56" cy="267.43" r="1.6"/><circle cx="295.64" cy="263.97" r="1.6"/><circle cx="296.66" cy="268.42" r="1.6"/></g><g fill="none" stroke="#39a936" stroke-width="1.25"><circle cx="162.61" cy="55.28" r="1.6"/><circle cx="163.44" cy="71.28" r="1.6"/><circle cx="164.36" cy="85.36" r="1.6"/><circle cx="165.54" cy="93.74" r="1.6"/><circle cx="166.64" cy="100.43" r="1.6"/><circle cx="167.38" cy="108.70" r="1.6"/><circle cx="168.57" cy="114.42" r="1.6"/><circle cx="169.62" cy="122.39" r="1.6"/><circle cx="170.60" cy="127.04" r="1.6"/><circle cx="171.67" cy="135.12" r="1.6"/><circle cx="172.57" cy="140.44" r="1.6"/><circle cx="173.68" cy="142.62" r="1.6"/><circle cx="174.72" cy="145.72" r="1.6"/><circle cx="175.72" cy="148.01" r="1.6"/><circle cx="176.71" cy="150.86" r="1.6"/><circle cx="177.76" cy="152.33" r="1.6"/><circle cx="178.66" cy="154.59" r="1.6"/><circle cx="179.68" cy="155.89" r="1.6"/><circle cx="180.72" cy="159.02" r="1.6"/><circle cx="181.79" cy="161.15" r="1.6"/><circle cx="182.95" cy="162.85" r="1.6"/><circle cx="184.03" cy="164.06" r="1.6"/><circle cx="185.07" cy="164.64" r="1.6"/><circle cx="185.90" cy="165.62" r="1.6"/><circle cx="187.05" cy="164.29" r="1.6"/><circle cx="188.17" cy="165.79" r="1.6"/><circle cx="189.23" cy="165.96" r="1.6"/><circle cx="190.16" cy="164.38" r="1.6"/><circle cx="191.38" cy="166.55" r="1.6"/><circle cx="192.27" cy="165.21" r="1.6"/><circle cx="193.38" cy="167.24" r="1.6"/><circle cx="194.45" cy="166.83" r="1.6"/><circle cx="195.36" cy="167.56" r="1.6"/><circle cx="196.53" cy="167.45" r="1.6"/><circle cx="197.60" cy="166.38" r="1.6"/><circle cx="198.68" cy="166.44" r="1.6"/><circle cx="199.64" cy="167.09" r="1.6"/><circle cx="200.70" cy="167.59" r="1.6"/><circle cx="201.66" cy="167.71" r="1.6"/><circle cx="202.74" cy="167.62" r="1.6"/><circle cx="203.75" cy="167.89" r="1.6"/><circle cx="204.75" cy="167.36" r="1.6"/><circle cx="206.04" cy="168.35" r="1.6"/><circle cx="206.93" cy="169.62" r="1.6"/><circle cx="207.90" cy="169.81" r="1.6"/><circle cx="209.07" cy="169.82" r="1.6"/><circle cx="210.15" cy="170.65" r="1.6"/><circle cx="211.08" cy="173.06" r="1.6"/><circle cx="212.11" cy="172.79" r="1.6"/><circle cx="213.34" cy="173.51" r="1.6"/><circle cx="214.27" cy="175.13" r="1.6"/><circle cx="215.42" cy="174.61" r="1.6"/><circle cx="216.55" cy="176.92" r="1.6"/><circle cx="217.50" cy="177.78" r="1.6"/><circle cx="218.49" cy="176.78" r="1.6"/><circle cx="219.64" cy="176.67" r="1.6"/><circle cx="220.65" cy="176.55" r="1.6"/><circle cx="221.83" cy="178.20" r="1.6"/><circle cx="222.67" cy="179.60" r="1.6"/><circle cx="223.82" cy="179.86" r="1.6"/><circle cx="224.86" cy="183.14" r="1.6"/><circle cx="226.01" cy="183.88" r="1.6"/><circle cx="227.07" cy="183.28" r="1.6"/><circle cx="227.90" cy="185.75" r="1.6"/><circle cx="228.98" cy="185.88" r="1.6"/><circle cx="230.19" cy="187.77" r="1.6"/><circle cx="231.26" cy="188.09" r="1.6"/><circle cx="232.15" cy="184.59" r="1.6"/><circle cx="233.34" cy="190.37" r="1.6"/><circle cx="234.32" cy="189.71" r="1.6"/><circle cx="235.31" cy="189.71" r="1.6"/><circle cx="236.54" cy="188.87" r="1.6"/><circle cx="237.39" cy="193.60" r="1.6"/><circle cx="238.62" cy="189.65" r="1.6"/><circle cx="239.53" cy="194.26" r="1.6"/><circle cx="240.51" cy="193.38" r="1.6"/><circle cx="241.63" cy="196.39" r="1.6"/><circle cx="242.79" cy="191.70" r="1.6"/><circle cx="243.88" cy="191.94" r="1.6"/><circle cx="244.65" cy="195.48" r="1.6"/><circle cx="245.96" cy="197.04" r="1.6"/><circle cx="246.96" cy="197.51" r="1.6"/><circle cx="247.93" cy="195.85" r="1.6"/><circle cx="249.01" cy="201.06" r="1.6"/><circle cx="250.12" cy="195.75" r="1.6"/><circle cx="251.18" cy="201.21" r="1.6"/><circle cx="252.09" cy="200.64" r="1.6"/><circle cx="253.14" cy="202.76" r="1.6"/><circle cx="254.32" cy="200.65" r="1.6"/><circle cx="255.36" cy="202.73" r="1.6"/><circle cx="256.37" cy="204.95" r="1.6"/><circle cx="257.53" cy="202.38" r="1.6"/><circle cx="258.59" cy="204.30" r="1.6"/><circle cx="259.51" cy="208.06" r="1.6"/><circle cx="260.41" cy="209.48" r="1.6"/><circle cx="261.56" cy="203.65" r="1.6"/><circle cx="262.79" cy="206.44" r="1.6"/><circle cx="263.61" cy="205.50" r="1.6"/><circle cx="264.69" cy="207.76" r="1.6"/><circle cx="265.67" cy="210.55" r="1.6"/><circle cx="266.75" cy="210.84" r="1.6"/><circle cx="267.86" cy="216.07" r="1.6"/><circle cx="268.92" cy="209.51" r="1.6"/><circle cx="269.98" cy="215.56" r="1.6"/><circle cx="271.18" cy="216.55" r="1.6"/><circle cx="272.01" cy="213.27" r="1.6"/><circle cx="273.22" cy="214.84" r="1.6"/><circle cx="274.21" cy="216.99" r="1.6"/><circle cx="275.38" cy="216.07" r="1.6"/><circle cx="276.38" cy="221.22" r="1.6"/><circle cx="277.30" cy="223.24" r="1.6"/><circle cx="278.51" cy="217.33" r="1.6"/><circle cx="279.55" cy="219.68" r="1.6"/><circle cx="280.63" cy="223.70" r="1.6"/><circle cx="281.61" cy="220.95" r="1.6"/><circle cx="282.46" cy="227.11" r="1.6"/><circle cx="283.53" cy="221.33" r="1.6"/><circle cx="284.66" cy="228.29" r="1.6"/><circle cx="285.68" cy="224.13" r="1.6"/><circle cx="286.77" cy="226.43" r="1.6"/><circle cx="287.78" cy="228.92" r="1.6"/><circle cx="288.79" cy="228.30" r="1.6"/><circle cx="289.80" cy="230.28" r="1.6"/><circle cx="291.07" cy="227.77" r="1.6"/><circle cx="292.01" cy="223.16" r="1.6"/><circle cx="293.08" cy="225.18" r="1.6"/><circle cx="294.18" cy="227.92" r="1.6"/><circle cx="295.11" cy="229.19" r="1.6"/><circle cx="296.26" cy="232.67" r="1.6"/></g><g fill="none" stroke="#ff5705" stroke-width="1.25"><circle cx="162.54" cy="35.11" r="1.6"/><circle cx="163.43" cy="49.50" r="1.6"/><circle cx="164.38" cy="54.84" r="1.6"/><circle cx="165.43" cy="66.36" r="1.6"/><circle cx="166.47" cy="73.34" r="1.6"/><circle cx="167.57" cy="79.03" r="1.6"/><circle cx="168.49" cy="86.74" r="1.6"/><circle cx="169.43" cy="94.92" r="1.6"/><circle cx="170.65" cy="100.69" r="1.6"/><circle cx="171.44" cy="105.90" r="1.6"/><circle cx="172.65" cy="109.26" r="1.6"/><circle cx="173.53" cy="111.22" r="1.6"/><circle cx="174.57" cy="112.60" r="1.6"/><circle cx="175.48" cy="114.50" r="1.6"/><circle cx="176.61" cy="115.31" r="1.6"/><circle cx="177.70" cy="117.25" r="1.6"/><circle cx="178.77" cy="120.52" r="1.6"/><circle cx="179.83" cy="124.20" r="1.6"/><circle cx="180.81" cy="125.66" r="1.6"/><circle cx="181.81" cy="126.58" r="1.6"/><circle cx="182.90" cy="128.73" r="1.6"/><circle cx="183.98" cy="131.49" r="1.6"/><circle cx="184.92" cy="132.54" r="1.6"/><circle cx="186.12" cy="130.77" r="1.6"/><circle cx="186.94" cy="129.15" r="1.6"/><circle cx="188.02" cy="135.27" r="1.6"/><circle cx="189.06" cy="135.14" r="1.6"/><circle cx="190.28" cy="133.28" r="1.6"/><circle cx="191.15" cy="135.95" r="1.6"/><circle cx="192.31" cy="130.74" r="1.6"/><circle cx="193.24" cy="129.90" r="1.6"/><circle cx="194.28" cy="130.82" r="1.6"/><circle cx="195.49" cy="134.03" r="1.6"/><circle cx="196.35" cy="133.13" r="1.6"/><circle cx="197.66" cy="133.84" r="1.6"/><circle cx="198.61" cy="131.80" r="1.6"/><circle cx="199.63" cy="131.24" r="1.6"/><circle cx="200.69" cy="134.31" r="1.6"/><circle cx="201.67" cy="131.94" r="1.6"/><circle cx="202.69" cy="132.13" r="1.6"/><circle cx="203.74" cy="135.26" r="1.6"/><circle cx="204.84" cy="135.14" r="1.6"/><circle cx="205.99" cy="137.49" r="1.6"/><circle cx="207.14" cy="133.00" r="1.6"/><circle cx="207.90" cy="138.08" r="1.6"/><circle cx="209.11" cy="133.99" r="1.6"/><circle cx="210.00" cy="139.27" r="1.6"/><circle cx="211.28" cy="138.35" r="1.6"/><circle cx="212.29" cy="134.07" r="1.6"/><circle cx="213.36" cy="136.92" r="1.6"/><circle cx="214.35" cy="138.71" r="1.6"/><circle cx="215.51" cy="137.95" r="1.6"/><circle cx="216.37" cy="137.22" r="1.6"/><circle cx="217.42" cy="136.37" r="1.6"/><circle cx="218.41" cy="138.25" r="1.6"/><circle cx="219.62" cy="139.64" r="1.6"/><circle cx="220.61" cy="138.80" r="1.6"/><circle cx="221.83" cy="136.28" r="1.6"/><circle cx="222.66" cy="140.15" r="1.6"/><circle cx="223.71" cy="137.42" r="1.6"/><circle cx="224.98" cy="140.65" r="1.6"/><circle cx="225.90" cy="140.37" r="1.6"/><circle cx="226.97" cy="140.24" r="1.6"/><circle cx="228.00" cy="140.41" r="1.6"/><circle cx="228.92" cy="142.56" r="1.6"/><circle cx="230.04" cy="143.80" r="1.6"/><circle cx="231.09" cy="144.74" r="1.6"/><circle cx="232.24" cy="148.65" r="1.6"/><circle cx="233.32" cy="145.62" r="1.6"/><circle cx="234.34" cy="146.39" r="1.6"/><circle cx="235.19" cy="150.49" r="1.6"/><circle cx="236.54" cy="150.38" r="1.6"/><circle cx="237.51" cy="151.54" r="1.6"/><circle cx="238.39" cy="151.36" r="1.6"/><circle cx="239.62" cy="152.97" r="1.6"/><circle cx="240.54" cy="151.88" r="1.6"/><circle cx="241.57" cy="155.53" r="1.6"/><circle cx="242.75" cy="153.05" r="1.6"/><circle cx="243.83" cy="152.99" r="1.6"/><circle cx="244.79" cy="155.87" r="1.6"/><circle cx="245.85" cy="157.75" r="1.6"/><circle cx="246.99" cy="156.65" r="1.6"/><circle cx="247.97" cy="156.14" r="1.6"/><circle cx="248.91" cy="162.59" r="1.6"/><circle cx="250.04" cy="162.43" r="1.6"/><circle cx="250.97" cy="157.88" r="1.6"/><circle cx="252.08" cy="165.99" r="1.6"/><circle cx="253.24" cy="163.08" r="1.6"/><circle cx="254.14" cy="160.92" r="1.6"/><circle cx="255.31" cy="162.03" r="1.6"/><circle cx="256.20" cy="168.76" r="1.6"/><circle cx="257.42" cy="170.63" r="1.6"/><circle cx="258.59" cy="172.21" r="1.6"/><circle cx="259.45" cy="167.57" r="1.6"/><circle cx="260.44" cy="167.72" r="1.6"/><circle cx="261.58" cy="173.19" r="1.6"/><circle cx="262.79" cy="175.24" r="1.6"/><circle cx="263.60" cy="169.85" r="1.6"/><circle cx="264.84" cy="175.51" r="1.6"/><circle cx="265.67" cy="171.26" r="1.6"/><circle cx="266.74" cy="170.08" r="1.6"/><circle cx="267.92" cy="176.25" r="1.6"/><circle cx="269.02" cy="177.60" r="1.6"/><circle cx="269.93" cy="174.47" r="1.6"/><circle cx="270.98" cy="174.46" r="1.6"/><circle cx="272.19" cy="173.91" r="1.6"/><circle cx="273.02" cy="179.26" r="1.6"/><circle cx="274.11" cy="176.16" r="1.6"/><circle cx="275.16" cy="175.36" r="1.6"/><circle cx="276.14" cy="181.05" r="1.6"/><circle cx="277.24" cy="180.06" r="1.6"/><circle cx="278.30" cy="184.33" r="1.6"/><circle cx="279.50" cy="178.88" r="1.6"/><circle cx="280.52" cy="183.18" r="1.6"/><circle cx="281.54" cy="183.61" r="1.6"/><circle cx="282.60" cy="180.23" r="1.6"/><circle cx="283.61" cy="178.97" r="1.6"/><circle cx="284.64" cy="183.14" r="1.6"/><circle cx="285.86" cy="178.95" r="1.6"/><circle cx="286.94" cy="181.82" r="1.6"/><circle cx="287.91" cy="177.42" r="1.6"/><circle cx="288.92" cy="180.25" r="1.6"/><circle cx="290.01" cy="178.92" r="1.6"/><circle cx="291.12" cy="180.86" r="1.6"/><circle cx="292.00" cy="186.80" r="1.6"/><circle cx="293.00" cy="183.33" r="1.6"/><circle cx="294.15" cy="183.78" r="1.6"/><circle cx="295.05" cy="178.76" r="1.6"/><circle cx="296.11" cy="179.36" r="1.6"/></g><g fill="none" stroke="#0ea2f6" stroke-width="1.25"><circle cx="162.48" cy="8.59" r="1.6"/><circle cx="163.40" cy="16.57" r="1.6"/><circle cx="164.47" cy="21.87" r="1.6"/><circle cx="165.28" cy="26.16" r="1.6"/><circle cx="166.44" cy="36.45" r="1.6"/><circle cx="167.54" cy="46.03" r="1.6"/><circle cx="168.52" cy="50.75" r="1.6"/><circle cx="169.56" cy="54.42" r="1.6"/><circle cx="170.41" cy="61.09" r="1.6"/><circle cx="171.55" cy="73.34" r="1.6"/><circle cx="172.30" cy="75.85" r="1.6"/><circle cx="173.36" cy="79.93" r="1.6"/><circle cx="174.63" cy="79.13" r="1.6"/><circle cx="175.50" cy="79.69" r="1.6"/><circle cx="176.47" cy="81.12" r="1.6"/><circle cx="177.71" cy="81.97" r="1.6"/><circle cx="178.74" cy="81.66" r="1.6"/><circle cx="179.74" cy="85.35" r="1.6"/><circle cx="180.56" cy="86.84" r="1.6"/><circle cx="181.71" cy="89.70" r="1.6"/><circle cx="182.66" cy="91.59" r="1.6"/><circle cx="183.77" cy="90.57" r="1.6"/><circle cx="184.84" cy="89.96" r="1.6"/><circle cx="185.76" cy="94.48" r="1.6"/><circle cx="187.04" cy="92.96" r="1.6"/><circle cx="187.88" cy="92.76" r="1.6"/><circle cx="189.14" cy="92.88" r="1.6"/><circle cx="190.19" cy="92.80" r="1.6"/><circle cx="191.03" cy="97.09" r="1.6"/><circle cx="192.29" cy="96.90" r="1.6"/><circle cx="193.36" cy="94.20" r="1.6"/><circle cx="194.37" cy="96.95" r="1.6"/><circle cx="195.38" cy="97.53" r="1.6"/><circle cx="196.27" cy="94.99" r="1.6"/><circle cx="197.35" cy="94.06" r="1.6"/><circle cx="198.55" cy="99.24" r="1.6"/><circle cx="199.40" cy="99.53" r="1.6"/><circle cx="200.58" cy="97.95" r="1.6"/><circle cx="201.66" cy="97.48" r="1.6"/><circle cx="202.84" cy="98.28" r="1.6"/><circle cx="203.75" cy="94.88" r="1.6"/><circle cx="204.84" cy="98.29" r="1.6"/><circle cx="205.75" cy="97.80" r="1.6"/><circle cx="206.82" cy="99.11" r="1.6"/><circle cx="207.85" cy="98.64" r="1.6"/><circle cx="208.91" cy="99.76" r="1.6"/><circle cx="210.04" cy="98.43" r="1.6"/><circle cx="210.96" cy="100.14" r="1.6"/><circle cx="212.08" cy="99.26" r="1.6"/><circle cx="213.15" cy="103.14" r="1.6"/><circle cx="214.32" cy="102.53" r="1.6"/><circle cx="215.26" cy="98.51" r="1.6"/><circle cx="216.32" cy="98.19" r="1.6"/><circle cx="217.53" cy="104.21" r="1.6"/><circle cx="218.45" cy="101.90" r="1.6"/><circle cx="219.56" cy="104.66" r="1.6"/><circle cx="220.41" cy="105.22" r="1.6"/><circle cx="221.54" cy="104.04" r="1.6"/><circle cx="222.68" cy="101.42" r="1.6"/><circle cx="223.58" cy="106.06" r="1.6"/><circle cx="224.82" cy="104.18" r="1.6"/><circle cx="225.86" cy="105.65" r="1.6"/><circle cx="226.97" cy="101.80" r="1.6"/><circle cx="227.91" cy="104.11" r="1.6"/><circle cx="228.82" cy="108.31" r="1.6"/><circle cx="230.13" cy="103.27" r="1.6"/><circle cx="231.16" cy="105.42" r="1.6"/><circle cx="232.04" cy="110.49" r="1.6"/><circle cx="233.09" cy="110.04" r="1.6"/><circle cx="234.31" cy="107.87" r="1.6"/><circle cx="235.35" cy="112.41" r="1.6"/><circle cx="236.23" cy="112.56" r="1.6"/><circle cx="237.34" cy="112.50" r="1.6"/><circle cx="238.37" cy="112.24" r="1.6"/><circle cx="239.56" cy="109.33" r="1.6"/><circle cx="240.34" cy="115.55" r="1.6"/><circle cx="241.53" cy="109.88" r="1.6"/><circle cx="242.56" cy="113.41" r="1.6"/><circle cx="243.68" cy="116.27" r="1.6"/><circle cx="244.68" cy="117.60" r="1.6"/><circle cx="245.82" cy="118.32" r="1.6"/><circle cx="246.69" cy="119.62" r="1.6"/><circle cx="247.79" cy="113.30" r="1.6"/><circle cx="248.93" cy="115.38" r="1.6"/><circle cx="249.86" cy="117.70" r="1.6"/><circle cx="250.93" cy="118.41" r="1.6"/><circle cx="252.02" cy="121.84" r="1.6"/><circle cx="253.23" cy="120.18" r="1.6"/><circle cx="254.01" cy="124.15" r="1.6"/><circle cx="255.31" cy="122.15" r="1.6"/><circle cx="256.17" cy="121.73" r="1.6"/><circle cx="257.42" cy="117.89" r="1.6"/><circle cx="258.45" cy="123.04" r="1.6"/><circle cx="259.46" cy="124.10" r="1.6"/><circle cx="260.49" cy="124.73" r="1.6"/><circle cx="261.53" cy="123.22" r="1.6"/><circle cx="262.61" cy="128.20" r="1.6"/><circle cx="263.73" cy="121.33" r="1.6"/><circle cx="264.68" cy="125.25" r="1.6"/><circle cx="265.82" cy="127.77" r="1.6"/><circle cx="266.84" cy="124.16" r="1.6"/><circle cx="267.71" cy="124.19" r="1.6"/><circle cx="268.90" cy="129.00" r="1.6"/><circle cx="269.78" cy="132.85" r="1.6"/><circle cx="270.95" cy="125.41" r="1.6"/><circle cx="272.06" cy="129.29" r="1.6"/><circle cx="273.15" cy="128.51" r="1.6"/><circle cx="274.22" cy="126.94" r="1.6"/><circle cx="275.05" cy="130.30" r="1.6"/><circle cx="276.32" cy="133.88" r="1.6"/><circle cx="277.19" cy="137.21" r="1.6"/><circle cx="278.28" cy="129.74" r="1.6"/><circle cx="279.29" cy="129.06" r="1.6"/><circle cx="280.46" cy="131.70" r="1.6"/><circle cx="281.38" cy="134.49" r="1.6"/><circle cx="282.63" cy="136.46" r="1.6"/><circle cx="283.67" cy="132.15" r="1.6"/><circle cx="284.47" cy="135.02" r="1.6"/><circle cx="285.49" cy="134.90" r="1.6"/><circle cx="286.64" cy="143.45" r="1.6"/><circle cx="287.59" cy="139.40" r="1.6"/><circle cx="288.66" cy="146.29" r="1.6"/><circle cx="289.85" cy="140.15" r="1.6"/><circle cx="290.75" cy="139.93" r="1.6"/><circle cx="292.04" cy="139.92" r="1.6"/><circle cx="293.07" cy="145.86" r="1.6"/><circle cx="293.93" cy="143.08" r="1.6"/><circle cx="295.17" cy="149.82" r="1.6"/><circle cx="296.24" cy="149.12" r="1.6"/><circle cx="297.12" cy="143.50" r="1.6"/></g><g fill="none" stroke="#b5571f" stroke-width="1.25"><circle cx="166.16" cy="1.00" r="1.6"/><circle cx="167.05" cy="11.58" r="1.6"/><circle cx="168.13" cy="16.92" r="1.6"/><circle cx="169.11" cy="22.75" r="1.6"/><circle cx="170.26" cy="28.10" r="1.6"/><circle cx="171.28" cy="30.62" r="1.6"/><circle cx="172.36" cy="33.97" r="1.6"/><circle cx="173.33" cy="34.76" r="1.6"/><circle cx="174.13" cy="36.57" r="1.6"/><circle cx="175.25" cy="37.70" r="1.6"/><circle cx="176.20" cy="38.72" r="1.6"/><circle cx="177.49" cy="40.66" r="1.6"/><circle cx="178.27" cy="45.37" r="1.6"/><circle cx="179.28" cy="48.21" r="1.6"/><circle cx="180.55" cy="51.39" r="1.6"/><circle cx="181.46" cy="52.02" r="1.6"/><circle cx="182.48" cy="54.12" r="1.6"/><circle cx="183.48" cy="56.89" r="1.6"/><circle cx="184.52" cy="57.28" r="1.6"/><circle cx="185.77" cy="59.13" r="1.6"/><circle cx="186.70" cy="61.47" r="1.6"/><circle cx="187.89" cy="60.87" r="1.6"/><circle cx="188.93" cy="61.01" r="1.6"/><circle cx="189.73" cy="64.64" r="1.6"/><circle cx="190.88" cy="64.33" r="1.6"/><circle cx="192.06" cy="63.22" r="1.6"/><circle cx="193.10" cy="63.75" r="1.6"/><circle cx="194.21" cy="67.47" r="1.6"/><circle cx="195.04" cy="67.10" r="1.6"/><circle cx="196.17" cy="64.86" r="1.6"/><circle cx="197.32" cy="66.74" r="1.6"/><circle cx="198.34" cy="64.98" r="1.6"/><circle cx="199.19" cy="65.20" r="1.6"/><circle cx="200.27" cy="62.52" r="1.6"/><circle cx="201.55" cy="67.24" r="1.6"/><circle cx="202.48" cy="62.71" r="1.6"/><circle cx="203.57" cy="68.04" r="1.6"/><circle cx="204.59" cy="66.22" r="1.6"/><circle cx="205.73" cy="65.78" r="1.6"/><circle cx="206.76" cy="63.89" r="1.6"/><circle cx="207.84" cy="63.42" r="1.6"/><circle cx="208.80" cy="67.79" r="1.6"/><circle cx="209.84" cy="69.69" r="1.6"/><circle cx="210.90" cy="69.20" r="1.6"/><circle cx="212.00" cy="64.79" r="1.6"/><circle cx="212.89" cy="69.50" r="1.6"/><circle cx="213.97" cy="67.50" r="1.6"/><circle cx="215.05" cy="66.83" r="1.6"/><circle cx="216.15" cy="64.84" r="1.6"/><circle cx="217.26" cy="69.43" r="1.6"/><circle cx="218.18" cy="62.75" r="1.6"/><circle cx="219.16" cy="63.59" r="1.6"/><circle cx="220.36" cy="68.47" r="1.6"/><circle cx="221.43" cy="64.38" r="1.6"/><circle cx="222.38" cy="71.31" r="1.6"/><circle cx="223.45" cy="71.91" r="1.6"/><circle cx="224.42" cy="71.65" r="1.6"/><circle cx="225.48" cy="68.97" r="1.6"/><circle cx="226.49" cy="69.12" r="1.6"/><circle cx="227.57" cy="68.19" r="1.6"/><circle cx="228.64" cy="71.35" r="1.6"/><circle cx="229.75" cy="70.72" r="1.6"/><circle cx="230.94" cy="72.98" r="1.6"/><circle cx="231.83" cy="74.45" r="1.6"/><circle cx="233.00" cy="71.95" r="1.6"/><circle cx="233.99" cy="69.95" r="1.6"/><circle cx="235.15" cy="70.53" r="1.6"/><circle cx="236.23" cy="71.36" r="1.6"/><circle cx="237.16" cy="73.90" r="1.6"/><circle cx="238.19" cy="74.42" r="1.6"/><circle cx="239.11" cy="76.13" r="1.6"/><circle cx="240.31" cy="80.04" r="1.6"/><circle cx="241.39" cy="77.70" r="1.6"/><circle cx="242.26" cy="77.79" r="1.6"/><circle cx="243.48" cy="78.16" r="1.6"/><circle cx="244.33" cy="82.73" r="1.6"/><circle cx="245.67" cy="79.52" r="1.6"/><circle cx="246.69" cy="83.01" r="1.6"/><circle cx="247.62" cy="78.67" r="1.6"/><circle cx="248.56" cy="85.94" r="1.6"/><circle cx="249.76" cy="85.94" r="1.6"/><circle cx="250.86" cy="83.42" r="1.6"/><circle cx="251.69" cy="83.81" r="1.6"/><circle cx="253.02" cy="81.37" r="1.6"/><circle cx="253.85" cy="89.01" r="1.6"/><circle cx="254.84" cy="83.04" r="1.6"/><circle cx="256.04" cy="89.03" r="1.6"/><circle cx="256.94" cy="88.77" r="1.6"/><circle cx="257.98" cy="84.23" r="1.6"/><circle cx="259.16" cy="88.09" r="1.6"/><circle cx="260.21" cy="85.72" r="1.6"/><circle cx="261.30" cy="90.51" r="1.6"/><circle cx="262.25" cy="90.68" r="1.6"/><circle cx="263.38" cy="93.78" r="1.6"/><circle cx="264.28" cy="90.04" r="1.6"/><circle cx="265.54" cy="92.20" r="1.6"/><circle cx="266.61" cy="94.48" r="1.6"/><circle cx="267.58" cy="89.45" r="1.6"/><circle cx="268.49" cy="97.42" r="1.6"/><circle cx="269.65" cy="93.74" r="1.6"/><circle cx="270.70" cy="91.28" r="1.6"/><circle cx="271.72" cy="95.09" r="1.6"/><circle cx="272.71" cy="100.43" r="1.6"/><circle cx="273.93" cy="97.43" r="1.6"/><circle cx="274.86" cy="100.15" r="1.6"/><circle cx="276.06" cy="96.54" r="1.6"/><circle cx="277.08" cy="97.85" r="1.6"/><circle cx="277.94" cy="94.41" r="1.6"/><circle cx="279.04" cy="103.90" r="1.6"/><circle cx="280.30" cy="96.33" r="1.6"/><circle cx="281.24" cy="95.85" r="1.6"/><circle cx="282.35" cy="102.84" r="1.6"/><circle cx="283.32" cy="106.60" r="1.6"/><circle cx="284.42" cy="106.21" r="1.6"/><circle cx="285.40" cy="108.93" r="1.6"/><circle cx="286.37" cy="99.34" r="1.6"/><circle cx="287.51" cy="102.17" r="1.6"/><circle cx="288.53" cy="105.74" r="1.6"/><circle cx="289.71" cy="109.27" r="1.6"/><circle cx="290.64" cy="100.02" r="1.6"/><circle cx="291.80" cy="106.05" r="1.6"/><circle cx="292.78" cy="107.27" r="1.6"/><circle cx="293.68" cy="108.18" r="1.6"/><circle cx="294.84" cy="112.53" r="1.6"/><circle cx="296.05" cy="109.89" r="1.6"/><circle cx="296.93" cy="102.51" r="1.6"/></g><path d="M161.80 -2.00 C161.97 -0.60 162.35 1.07 162.80 6.40 C163.25 11.73 164.00 23.90 164.50 30.00 C165.00 36.10 164.90 37.33 165.80 43.00 C166.70 48.67 168.77 59.25 169.90 64.00 C171.03 68.75 171.80 69.12 172.60 71.50 C173.40 73.88 174.02 77.50 174.70 78.30 C175.38 79.10 176.13 75.85 176.70 76.30 C177.27 76.75 177.75 79.55 178.10 81.00 C178.45 82.45 178.48 83.63 178.80 85.00 C179.12 86.37 179.43 88.03 180.00 89.20 C180.57 90.37 181.15 91.00 182.20 92.00 C183.25 93.00 184.77 94.28 186.30 95.20 C187.83 96.12 188.67 96.73 191.40 97.50 C194.13 98.27 198.92 99.30 202.70 99.80 C206.48 100.30 210.30 99.93 214.10 100.50 C217.90 101.07 221.72 101.80 225.50 103.20 C229.28 104.60 233.88 107.35 236.80 108.90 C239.72 110.45 241.10 111.18 243.00 112.50 C244.90 113.82 246.12 115.18 248.20 116.80 C250.28 118.42 253.37 120.53 255.50 122.20 C257.63 123.87 259.15 125.28 261.00 126.80 C262.85 128.32 264.75 129.85 266.60 131.30 C268.45 132.75 270.05 134.13 272.10 135.50 C274.15 136.87 276.42 138.17 278.90 139.50 C281.38 140.83 284.23 142.25 287.00 143.50 C289.77 144.75 294.08 146.42 295.50 147.00" fill="none" stroke="#000" stroke-width="1.5"/><line x1="226.2" y1="66.8" x2="203.8" y2="205" stroke="#4a40b8" stroke-opacity="0.72" stroke-width="2.4" stroke-dasharray="5 2.2"/></g>
<path d="M168.95 267.7V263.10M168.95 0.8V5.40M176.90 267.7V263.10M176.90 0.8V5.40M184.85 267.7V259.70M184.85 0.8V8.80M192.80 267.7V263.10M192.80 0.8V5.40M200.75 267.7V263.10M200.75 0.8V5.40M208.70 267.7V259.70M208.70 0.8V8.80M216.65 267.7V263.10M216.65 0.8V5.40M224.60 267.7V263.10M224.60 0.8V5.40M232.55 267.7V259.70M232.55 0.8V8.80M240.50 267.7V263.10M240.50 0.8V5.40M248.45 267.7V263.10M248.45 0.8V5.40M256.40 267.7V259.70M256.40 0.8V8.80M264.35 267.7V263.10M264.35 0.8V5.40M272.30 267.7V263.10M272.30 0.8V5.40M280.25 267.7V259.70M280.25 0.8V8.80M288.20 267.7V263.10M288.20 0.8V5.40M161.0 11.80H168.50M295.2 11.80H287.70M161.0 38.56H165.80M295.2 38.56H290.40M161.0 31.82H165.80M295.2 31.82H290.40M161.0 27.03H165.80M295.2 27.03H290.40M161.0 23.32H165.80M295.2 23.32H290.40M161.0 20.29H165.80M295.2 20.29H290.40M161.0 17.73H165.80M295.2 17.73H290.40M161.0 15.51H165.80M295.2 15.51H290.40M161.0 13.55H165.80M295.2 13.55H290.40M161.0 50.08H168.50M295.2 50.08H287.70M161.0 76.84H165.80M295.2 76.84H290.40M161.0 70.10H165.80M295.2 70.10H290.40M161.0 65.31H165.80M295.2 65.31H290.40M161.0 61.60H165.80M295.2 61.60H290.40M161.0 58.57H165.80M295.2 58.57H290.40M161.0 56.01H165.80M295.2 56.01H290.40M161.0 53.79H165.80M295.2 53.79H290.40M161.0 51.83H165.80M295.2 51.83H290.40M161.0 88.36H168.50M295.2 88.36H287.70M161.0 115.12H165.80M295.2 115.12H290.40M161.0 108.38H165.80M295.2 108.38H290.40M161.0 103.59H165.80M295.2 103.59H290.40M161.0 99.88H165.80M295.2 99.88H290.40M161.0 96.85H165.80M295.2 96.85H290.40M161.0 94.29H165.80M295.2 94.29H290.40M161.0 92.07H165.80M295.2 92.07H290.40M161.0 90.11H165.80M295.2 90.11H290.40M161.0 126.64H168.50M295.2 126.64H287.70M161.0 153.40H165.80M295.2 153.40H290.40M161.0 146.66H165.80M295.2 146.66H290.40M161.0 141.87H165.80M295.2 141.87H290.40M161.0 138.16H165.80M295.2 138.16H290.40M161.0 135.13H165.80M295.2 135.13H290.40M161.0 132.57H165.80M295.2 132.57H290.40M161.0 130.35H165.80M295.2 130.35H290.40M161.0 128.39H165.80M295.2 128.39H290.40M161.0 164.92H168.50M295.2 164.92H287.70M161.0 191.68H165.80M295.2 191.68H290.40M161.0 184.94H165.80M295.2 184.94H290.40M161.0 180.15H165.80M295.2 180.15H290.40M161.0 176.44H165.80M295.2 176.44H290.40M161.0 173.41H165.80M295.2 173.41H290.40M161.0 170.85H165.80M295.2 170.85H290.40M161.0 168.63H165.80M295.2 168.63H290.40M161.0 166.67H165.80M295.2 166.67H290.40M161.0 203.20H168.50M295.2 203.20H287.70M161.0 229.96H165.80M295.2 229.96H290.40M161.0 223.22H165.80M295.2 223.22H290.40M161.0 218.43H165.80M295.2 218.43H290.40M161.0 214.72H165.80M295.2 214.72H290.40M161.0 211.69H165.80M295.2 211.69H290.40M161.0 209.13H165.80M295.2 209.13H290.40M161.0 206.91H165.80M295.2 206.91H290.40M161.0 204.95H165.80M295.2 204.95H290.40M161.0 241.48H168.50M295.2 241.48H287.70M161.0 261.50H165.80M295.2 261.50H290.40M161.0 256.71H165.80M295.2 256.71H290.40M161.0 253.00H165.80M295.2 253.00H290.40M161.0 249.97H165.80M295.2 249.97H290.40M161.0 247.41H165.80M295.2 247.41H290.40M161.0 245.19H165.80M295.2 245.19H290.40M161.0 243.23H165.80M295.2 243.23H290.40" stroke="#000" stroke-width="1.15" fill="none"/>
<rect x="161.0" y="0.8" width="134.20" height="266.90" fill="none" stroke="#000" stroke-width="1.8"/>
<text x="164.50" y="283.4" font-size="12.7" text-anchor="middle">0</text>
<text x="184.85" y="283.4" font-size="12.7" text-anchor="middle">150</text>
<text x="208.70" y="283.4" font-size="12.7" text-anchor="middle">300</text>
<text x="232.55" y="283.4" font-size="12.7" text-anchor="middle">450</text>
<text x="256.40" y="283.4" font-size="12.7" text-anchor="middle">600</text>
<text x="280.25" y="283.4" font-size="12.7" text-anchor="middle">750</text>
<text x="228.5" y="304" font-size="16" text-anchor="middle">Energy (meV)</text>
<text x="175.4" y="25" font-size="18">b)</text>
<defs><clipPath id="clipc"><rect x="300.2" y="0.8" width="138.50" height="266.90"/></clipPath></defs>
<line x1="315.80" y1="46.5" x2="315.80" y2="267.7" stroke="#555" stroke-width="0.9" stroke-dasharray="1.1 2.6"/>
<g clip-path="url(#clipc)"><g fill="none" stroke="#777777" stroke-width="1.25"><circle cx="302.53" cy="84.64" r="1.6"/><circle cx="303.56" cy="95.70" r="1.6"/><circle cx="304.59" cy="106.76" r="1.6"/><circle cx="305.57" cy="115.96" r="1.6"/><circle cx="306.39" cy="121.60" r="1.6"/><circle cx="307.55" cy="125.71" r="1.6"/><circle cx="308.40" cy="134.86" r="1.6"/><circle cx="309.38" cy="139.88" r="1.6"/><circle cx="310.66" cy="142.43" r="1.6"/><circle cx="311.47" cy="147.67" r="1.6"/><circle cx="312.55" cy="151.28" r="1.6"/><circle cx="313.71" cy="153.85" r="1.6"/><circle cx="314.46" cy="157.56" r="1.6"/><circle cx="315.57" cy="160.98" r="1.6"/><circle cx="316.69" cy="163.71" r="1.6"/><circle cx="317.71" cy="166.93" r="1.6"/><circle cx="318.85" cy="173.46" r="1.6"/><circle cx="319.67" cy="175.12" r="1.6"/><circle cx="320.68" cy="179.20" r="1.6"/><circle cx="321.68" cy="181.54" r="1.6"/><circle cx="323.00" cy="183.63" r="1.6"/><circle cx="323.82" cy="186.34" r="1.6"/><circle cx="324.94" cy="188.00" r="1.6"/><circle cx="325.90" cy="189.11" r="1.6"/><circle cx="327.10" cy="190.52" r="1.6"/><circle cx="328.11" cy="191.50" r="1.6"/><circle cx="329.02" cy="192.53" r="1.6"/><circle cx="330.14" cy="193.58" r="1.6"/><circle cx="331.41" cy="193.97" r="1.6"/><circle cx="332.33" cy="194.54" r="1.6"/><circle cx="333.31" cy="194.52" r="1.6"/><circle cx="334.35" cy="196.42" r="1.6"/><circle cx="335.55" cy="195.42" r="1.6"/><circle cx="336.48" cy="197.20" r="1.6"/><circle cx="337.44" cy="197.54" r="1.6"/><circle cx="338.57" cy="199.01" r="1.6"/><circle cx="339.77" cy="199.14" r="1.6"/><circle cx="340.80" cy="198.38" r="1.6"/><circle cx="341.69" cy="200.79" r="1.6"/><circle cx="342.72" cy="199.18" r="1.6"/><circle cx="343.74" cy="200.36" r="1.6"/><circle cx="345.03" cy="202.21" r="1.6"/><circle cx="346.07" cy="201.83" r="1.6"/><circle cx="347.13" cy="204.06" r="1.6"/><circle cx="348.09" cy="203.00" r="1.6"/><circle cx="349.07" cy="202.35" r="1.6"/><circle cx="350.11" cy="206.85" r="1.6"/><circle cx="351.24" cy="204.61" r="1.6"/><circle cx="352.33" cy="207.70" r="1.6"/><circle cx="353.20" cy="208.25" r="1.6"/><circle cx="354.33" cy="210.91" r="1.6"/><circle cx="355.29" cy="208.87" r="1.6"/><circle cx="356.34" cy="211.43" r="1.6"/><circle cx="357.62" cy="210.24" r="1.6"/><circle cx="358.66" cy="214.89" r="1.6"/><circle cx="359.47" cy="215.87" r="1.6"/><circle cx="360.59" cy="215.89" r="1.6"/><circle cx="361.81" cy="217.03" r="1.6"/><circle cx="362.86" cy="218.80" r="1.6"/><circle cx="363.93" cy="220.04" r="1.6"/><circle cx="364.72" cy="216.39" r="1.6"/><circle cx="365.77" cy="219.53" r="1.6"/><circle cx="366.98" cy="217.39" r="1.6"/><circle cx="367.95" cy="218.65" r="1.6"/><circle cx="369.08" cy="219.85" r="1.6"/><circle cx="370.26" cy="222.10" r="1.6"/><circle cx="371.04" cy="219.96" r="1.6"/><circle cx="372.14" cy="224.43" r="1.6"/><circle cx="373.34" cy="221.70" r="1.6"/><circle cx="374.27" cy="225.77" r="1.6"/><circle cx="375.38" cy="221.44" r="1.6"/><circle cx="376.55" cy="223.62" r="1.6"/><circle cx="377.49" cy="225.19" r="1.6"/><circle cx="378.62" cy="226.79" r="1.6"/><circle cx="379.52" cy="230.19" r="1.6"/><circle cx="380.67" cy="231.01" r="1.6"/><circle cx="381.69" cy="226.45" r="1.6"/><circle cx="382.66" cy="231.26" r="1.6"/><circle cx="383.90" cy="233.44" r="1.6"/><circle cx="384.73" cy="233.16" r="1.6"/><circle cx="385.86" cy="230.65" r="1.6"/><circle cx="386.86" cy="235.08" r="1.6"/><circle cx="388.01" cy="234.86" r="1.6"/><circle cx="388.96" cy="234.19" r="1.6"/><circle cx="390.03" cy="232.78" r="1.6"/><circle cx="391.24" cy="233.46" r="1.6"/><circle cx="392.27" cy="237.00" r="1.6"/><circle cx="393.20" cy="236.52" r="1.6"/><circle cx="394.21" cy="238.57" r="1.6"/><circle cx="395.19" cy="236.85" r="1.6"/><circle cx="396.31" cy="236.50" r="1.6"/><circle cx="397.40" cy="237.90" r="1.6"/><circle cx="398.43" cy="237.83" r="1.6"/><circle cx="399.45" cy="244.70" r="1.6"/><circle cx="400.42" cy="245.56" r="1.6"/><circle cx="401.62" cy="240.16" r="1.6"/><circle cx="402.70" cy="243.34" r="1.6"/><circle cx="403.72" cy="242.37" r="1.6"/><circle cx="404.89" cy="242.06" r="1.6"/><circle cx="405.82" cy="242.52" r="1.6"/><circle cx="406.98" cy="249.89" r="1.6"/><circle cx="407.85" cy="249.87" r="1.6"/><circle cx="409.09" cy="248.78" r="1.6"/><circle cx="410.05" cy="247.50" r="1.6"/><circle cx="411.04" cy="246.68" r="1.6"/><circle cx="412.12" cy="247.16" r="1.6"/><circle cx="413.20" cy="252.88" r="1.6"/><circle cx="414.14" cy="252.19" r="1.6"/><circle cx="415.28" cy="248.92" r="1.6"/><circle cx="416.42" cy="252.99" r="1.6"/><circle cx="417.41" cy="254.08" r="1.6"/><circle cx="418.46" cy="254.90" r="1.6"/><circle cx="419.52" cy="250.13" r="1.6"/><circle cx="420.38" cy="252.90" r="1.6"/><circle cx="421.44" cy="254.02" r="1.6"/><circle cx="422.51" cy="258.13" r="1.6"/><circle cx="423.69" cy="253.11" r="1.6"/><circle cx="424.73" cy="255.35" r="1.6"/><circle cx="425.84" cy="257.17" r="1.6"/><circle cx="426.69" cy="252.45" r="1.6"/><circle cx="427.89" cy="256.09" r="1.6"/><circle cx="428.90" cy="261.59" r="1.6"/><circle cx="430.09" cy="255.50" r="1.6"/><circle cx="430.90" cy="255.52" r="1.6"/><circle cx="432.11" cy="256.52" r="1.6"/><circle cx="433.05" cy="261.35" r="1.6"/><circle cx="434.22" cy="259.60" r="1.6"/><circle cx="435.10" cy="261.36" r="1.6"/><circle cx="436.40" cy="259.59" r="1.6"/><circle cx="437.18" cy="262.18" r="1.6"/><circle cx="438.37" cy="263.03" r="1.6"/><circle cx="439.47" cy="261.19" r="1.6"/><circle cx="440.49" cy="258.14" r="1.6"/></g><g fill="none" stroke="#39a936" stroke-width="1.25"><circle cx="301.59" cy="59.70" r="1.6"/><circle cx="302.62" cy="76.29" r="1.6"/><circle cx="303.42" cy="81.89" r="1.6"/><circle cx="304.45" cy="84.77" r="1.6"/><circle cx="305.64" cy="92.45" r="1.6"/><circle cx="306.50" cy="109.55" r="1.6"/><circle cx="307.62" cy="115.23" r="1.6"/><circle cx="308.55" cy="117.72" r="1.6"/><circle cx="309.55" cy="122.63" r="1.6"/><circle cx="310.52" cy="127.58" r="1.6"/><circle cx="311.57" cy="130.43" r="1.6"/><circle cx="312.62" cy="133.99" r="1.6"/><circle cx="313.44" cy="137.30" r="1.6"/><circle cx="314.49" cy="138.85" r="1.6"/><circle cx="315.59" cy="140.56" r="1.6"/><circle cx="316.73" cy="143.50" r="1.6"/><circle cx="317.65" cy="145.20" r="1.6"/><circle cx="318.78" cy="149.87" r="1.6"/><circle cx="319.72" cy="150.40" r="1.6"/><circle cx="320.92" cy="153.01" r="1.6"/><circle cx="321.82" cy="154.63" r="1.6"/><circle cx="322.89" cy="157.10" r="1.6"/><circle cx="323.89" cy="159.05" r="1.6"/><circle cx="324.86" cy="160.71" r="1.6"/><circle cx="325.95" cy="160.73" r="1.6"/><circle cx="327.04" cy="160.71" r="1.6"/><circle cx="328.05" cy="161.89" r="1.6"/><circle cx="329.11" cy="164.00" r="1.6"/><circle cx="330.25" cy="164.33" r="1.6"/><circle cx="331.36" cy="165.62" r="1.6"/><circle cx="332.40" cy="166.17" r="1.6"/><circle cx="333.42" cy="165.86" r="1.6"/><circle cx="334.29" cy="165.20" r="1.6"/><circle cx="335.45" cy="165.98" r="1.6"/><circle cx="336.38" cy="166.29" r="1.6"/><circle cx="337.55" cy="165.38" r="1.6"/><circle cx="338.64" cy="165.20" r="1.6"/><circle cx="339.66" cy="166.30" r="1.6"/><circle cx="340.62" cy="165.37" r="1.6"/><circle cx="341.80" cy="165.30" r="1.6"/><circle cx="342.88" cy="166.41" r="1.6"/><circle cx="343.81" cy="166.87" r="1.6"/><circle cx="344.89" cy="166.65" r="1.6"/><circle cx="345.92" cy="165.17" r="1.6"/><circle cx="346.92" cy="165.88" r="1.6"/><circle cx="348.20" cy="165.69" r="1.6"/><circle cx="349.08" cy="165.87" r="1.6"/><circle cx="350.05" cy="167.88" r="1.6"/><circle cx="351.27" cy="167.61" r="1.6"/><circle cx="352.30" cy="166.07" r="1.6"/><circle cx="353.28" cy="168.07" r="1.6"/><circle cx="354.41" cy="167.52" r="1.6"/><circle cx="355.30" cy="169.13" r="1.6"/><circle cx="356.61" cy="167.75" r="1.6"/><circle cx="357.58" cy="171.01" r="1.6"/><circle cx="358.53" cy="169.71" r="1.6"/><circle cx="359.59" cy="171.94" r="1.6"/><circle cx="360.58" cy="169.89" r="1.6"/><circle cx="361.73" cy="172.76" r="1.6"/><circle cx="362.69" cy="173.86" r="1.6"/><circle cx="363.73" cy="173.45" r="1.6"/><circle cx="364.99" cy="172.66" r="1.6"/><circle cx="365.91" cy="173.54" r="1.6"/><circle cx="367.09" cy="177.44" r="1.6"/><circle cx="368.11" cy="177.29" r="1.6"/><circle cx="369.18" cy="174.90" r="1.6"/><circle cx="370.23" cy="179.56" r="1.6"/><circle cx="371.07" cy="177.27" r="1.6"/><circle cx="372.25" cy="176.89" r="1.6"/><circle cx="373.19" cy="181.08" r="1.6"/><circle cx="374.44" cy="181.26" r="1.6"/><circle cx="375.37" cy="181.86" r="1.6"/><circle cx="376.27" cy="185.53" r="1.6"/><circle cx="377.54" cy="182.78" r="1.6"/><circle cx="378.66" cy="183.38" r="1.6"/><circle cx="379.65" cy="183.65" r="1.6"/><circle cx="380.72" cy="185.54" r="1.6"/><circle cx="381.62" cy="186.67" r="1.6"/><circle cx="382.61" cy="188.96" r="1.6"/><circle cx="383.82" cy="188.28" r="1.6"/><circle cx="384.70" cy="188.54" r="1.6"/><circle cx="385.93" cy="190.58" r="1.6"/><circle cx="387.02" cy="192.85" r="1.6"/><circle cx="388.07" cy="194.49" r="1.6"/><circle cx="388.92" cy="194.71" r="1.6"/><circle cx="390.19" cy="197.33" r="1.6"/><circle cx="391.15" cy="195.81" r="1.6"/><circle cx="392.22" cy="195.00" r="1.6"/><circle cx="393.10" cy="195.18" r="1.6"/><circle cx="394.25" cy="196.39" r="1.6"/><circle cx="395.32" cy="201.42" r="1.6"/><circle cx="396.41" cy="196.11" r="1.6"/><circle cx="397.53" cy="199.58" r="1.6"/><circle cx="398.32" cy="201.57" r="1.6"/><circle cx="399.58" cy="199.47" r="1.6"/><circle cx="400.59" cy="201.38" r="1.6"/><circle cx="401.53" cy="204.38" r="1.6"/><circle cx="402.72" cy="202.50" r="1.6"/><circle cx="403.65" cy="206.83" r="1.6"/><circle cx="404.91" cy="207.64" r="1.6"/><circle cx="405.74" cy="207.13" r="1.6"/><circle cx="406.73" cy="205.02" r="1.6"/><circle cx="408.04" cy="210.89" r="1.6"/><circle cx="408.98" cy="211.22" r="1.6"/><circle cx="410.08" cy="208.16" r="1.6"/><circle cx="410.99" cy="209.48" r="1.6"/><circle cx="412.03" cy="210.97" r="1.6"/><circle cx="413.11" cy="210.22" r="1.6"/><circle cx="414.19" cy="208.76" r="1.6"/><circle cx="415.12" cy="213.03" r="1.6"/><circle cx="416.39" cy="215.01" r="1.6"/><circle cx="417.35" cy="217.51" r="1.6"/><circle cx="418.42" cy="217.95" r="1.6"/><circle cx="419.61" cy="218.55" r="1.6"/><circle cx="420.54" cy="214.69" r="1.6"/><circle cx="421.46" cy="218.43" r="1.6"/><circle cx="422.75" cy="214.54" r="1.6"/><circle cx="423.53" cy="216.81" r="1.6"/><circle cx="424.69" cy="217.10" r="1.6"/><circle cx="425.74" cy="215.56" r="1.6"/><circle cx="426.71" cy="220.22" r="1.6"/><circle cx="427.83" cy="217.00" r="1.6"/><circle cx="428.77" cy="223.44" r="1.6"/><circle cx="429.93" cy="221.91" r="1.6"/><circle cx="431.05" cy="221.69" r="1.6"/><circle cx="432.11" cy="220.65" r="1.6"/><circle cx="433.20" cy="223.02" r="1.6"/><circle cx="434.17" cy="221.64" r="1.6"/><circle cx="435.35" cy="223.38" r="1.6"/><circle cx="436.22" cy="222.92" r="1.6"/><circle cx="437.22" cy="226.05" r="1.6"/><circle cx="438.36" cy="228.20" r="1.6"/><circle cx="439.37" cy="222.07" r="1.6"/><circle cx="440.33" cy="224.57" r="1.6"/></g><g fill="none" stroke="#ff5705" stroke-width="1.25"><circle cx="302.59" cy="50.39" r="1.6"/><circle cx="303.47" cy="59.33" r="1.6"/><circle cx="304.55" cy="68.76" r="1.6"/><circle cx="305.49" cy="76.16" r="1.6"/><circle cx="306.51" cy="87.17" r="1.6"/><circle cx="307.48" cy="93.19" r="1.6"/><circle cx="308.46" cy="97.18" r="1.6"/><circle cx="309.53" cy="99.85" r="1.6"/><circle cx="310.57" cy="103.46" r="1.6"/><circle cx="311.45" cy="108.71" r="1.6"/><circle cx="312.49" cy="110.37" r="1.6"/><circle cx="313.66" cy="111.99" r="1.6"/><circle cx="314.72" cy="111.63" r="1.6"/><circle cx="315.51" cy="113.59" r="1.6"/><circle cx="316.79" cy="114.51" r="1.6"/><circle cx="317.81" cy="116.31" r="1.6"/><circle cx="318.66" cy="118.15" r="1.6"/><circle cx="319.76" cy="120.06" r="1.6"/><circle cx="320.64" cy="122.19" r="1.6"/><circle cx="321.88" cy="124.87" r="1.6"/><circle cx="322.84" cy="128.76" r="1.6"/><circle cx="323.81" cy="132.40" r="1.6"/><circle cx="324.90" cy="134.15" r="1.6"/><circle cx="326.01" cy="132.09" r="1.6"/><circle cx="327.03" cy="132.54" r="1.6"/><circle cx="328.11" cy="135.63" r="1.6"/><circle cx="329.09" cy="134.37" r="1.6"/><circle cx="330.19" cy="137.32" r="1.6"/><circle cx="331.30" cy="135.15" r="1.6"/><circle cx="332.26" cy="136.63" r="1.6"/><circle cx="333.44" cy="137.86" r="1.6"/><circle cx="334.38" cy="135.14" r="1.6"/><circle cx="335.37" cy="137.98" r="1.6"/><circle cx="336.40" cy="137.60" r="1.6"/><circle cx="337.67" cy="136.64" r="1.6"/><circle cx="338.61" cy="133.98" r="1.6"/><circle cx="339.70" cy="135.97" r="1.6"/><circle cx="340.82" cy="135.65" r="1.6"/><circle cx="341.68" cy="138.74" r="1.6"/><circle cx="342.84" cy="134.77" r="1.6"/><circle cx="343.79" cy="137.04" r="1.6"/><circle cx="344.82" cy="137.78" r="1.6"/><circle cx="346.01" cy="136.35" r="1.6"/><circle cx="346.92" cy="138.24" r="1.6"/><circle cx="348.03" cy="136.83" r="1.6"/><circle cx="349.09" cy="134.69" r="1.6"/><circle cx="350.03" cy="137.79" r="1.6"/><circle cx="351.20" cy="135.77" r="1.6"/><circle cx="352.19" cy="136.44" r="1.6"/><circle cx="353.24" cy="138.38" r="1.6"/><circle cx="354.30" cy="135.30" r="1.6"/><circle cx="355.34" cy="137.21" r="1.6"/><circle cx="356.53" cy="139.81" r="1.6"/><circle cx="357.48" cy="136.19" r="1.6"/><circle cx="358.42" cy="135.90" r="1.6"/><circle cx="359.72" cy="134.79" r="1.6"/><circle cx="360.64" cy="136.08" r="1.6"/><circle cx="361.70" cy="140.74" r="1.6"/><circle cx="362.80" cy="136.37" r="1.6"/><circle cx="363.97" cy="136.35" r="1.6"/><circle cx="364.87" cy="139.51" r="1.6"/><circle cx="366.00" cy="139.16" r="1.6"/><circle cx="366.99" cy="138.27" r="1.6"/><circle cx="367.99" cy="143.12" r="1.6"/><circle cx="369.17" cy="139.02" r="1.6"/><circle cx="370.12" cy="142.92" r="1.6"/><circle cx="371.11" cy="143.41" r="1.6"/><circle cx="372.15" cy="140.11" r="1.6"/><circle cx="373.36" cy="142.05" r="1.6"/><circle cx="374.22" cy="142.94" r="1.6"/><circle cx="375.50" cy="146.84" r="1.6"/><circle cx="376.32" cy="144.04" r="1.6"/><circle cx="377.47" cy="149.18" r="1.6"/><circle cx="378.48" cy="143.68" r="1.6"/><circle cx="379.67" cy="151.41" r="1.6"/><circle cx="380.49" cy="146.16" r="1.6"/><circle cx="381.70" cy="152.50" r="1.6"/><circle cx="382.73" cy="149.92" r="1.6"/><circle cx="383.64" cy="154.24" r="1.6"/><circle cx="384.82" cy="150.73" r="1.6"/><circle cx="385.89" cy="150.13" r="1.6"/><circle cx="386.78" cy="151.15" r="1.6"/><circle cx="387.90" cy="150.42" r="1.6"/><circle cx="389.05" cy="152.16" r="1.6"/><circle cx="390.05" cy="158.02" r="1.6"/><circle cx="391.18" cy="156.75" r="1.6"/><circle cx="392.31" cy="155.99" r="1.6"/><circle cx="393.26" cy="160.50" r="1.6"/><circle cx="394.39" cy="159.17" r="1.6"/><circle cx="395.34" cy="154.20" r="1.6"/><circle cx="396.22" cy="155.32" r="1.6"/><circle cx="397.39" cy="156.58" r="1.6"/><circle cx="398.48" cy="164.21" r="1.6"/><circle cx="399.66" cy="163.94" r="1.6"/><circle cx="400.45" cy="158.51" r="1.6"/><circle cx="401.57" cy="159.78" r="1.6"/><circle cx="402.54" cy="163.95" r="1.6"/><circle cx="403.60" cy="164.36" r="1.6"/><circle cx="404.91" cy="168.25" r="1.6"/><circle cx="405.85" cy="168.02" r="1.6"/><circle cx="406.88" cy="166.69" r="1.6"/><circle cx="407.95" cy="164.68" r="1.6"/><circle cx="408.91" cy="167.20" r="1.6"/><circle cx="410.04" cy="164.34" r="1.6"/><circle cx="410.94" cy="171.77" r="1.6"/><circle cx="412.07" cy="168.63" r="1.6"/><circle cx="413.27" cy="168.42" r="1.6"/><circle cx="414.31" cy="168.67" r="1.6"/><circle cx="415.23" cy="167.02" r="1.6"/><circle cx="416.23" cy="173.10" r="1.6"/><circle cx="417.33" cy="171.55" r="1.6"/><circle cx="418.37" cy="172.34" r="1.6"/><circle cx="419.39" cy="171.27" r="1.6"/><circle cx="420.55" cy="172.95" r="1.6"/><circle cx="421.50" cy="173.39" r="1.6"/><circle cx="422.67" cy="177.33" r="1.6"/><circle cx="423.64" cy="174.33" r="1.6"/><circle cx="424.75" cy="174.90" r="1.6"/><circle cx="425.64" cy="181.50" r="1.6"/><circle cx="426.84" cy="174.04" r="1.6"/><circle cx="427.85" cy="173.76" r="1.6"/><circle cx="428.82" cy="178.19" r="1.6"/><circle cx="429.99" cy="181.02" r="1.6"/><circle cx="431.11" cy="176.94" r="1.6"/><circle cx="432.03" cy="183.65" r="1.6"/><circle cx="433.08" cy="182.33" r="1.6"/><circle cx="434.10" cy="181.76" r="1.6"/><circle cx="435.22" cy="181.87" r="1.6"/><circle cx="436.28" cy="179.57" r="1.6"/><circle cx="437.17" cy="182.25" r="1.6"/><circle cx="438.30" cy="187.19" r="1.6"/><circle cx="439.53" cy="186.08" r="1.6"/><circle cx="440.40" cy="183.64" r="1.6"/></g><g fill="none" stroke="#0ea2f6" stroke-width="1.25"><circle cx="301.55" cy="9.72" r="1.6"/><circle cx="302.43" cy="25.36" r="1.6"/><circle cx="303.58" cy="29.53" r="1.6"/><circle cx="304.58" cy="37.84" r="1.6"/><circle cx="305.43" cy="49.63" r="1.6"/><circle cx="306.53" cy="51.17" r="1.6"/><circle cx="307.58" cy="56.37" r="1.6"/><circle cx="308.47" cy="63.17" r="1.6"/><circle cx="309.47" cy="69.42" r="1.6"/><circle cx="310.67" cy="72.07" r="1.6"/><circle cx="311.51" cy="75.61" r="1.6"/><circle cx="312.58" cy="79.73" r="1.6"/><circle cx="313.51" cy="80.60" r="1.6"/><circle cx="314.70" cy="81.16" r="1.6"/><circle cx="315.74" cy="81.42" r="1.6"/><circle cx="316.70" cy="82.38" r="1.6"/><circle cx="317.60" cy="82.32" r="1.6"/><circle cx="318.68" cy="83.03" r="1.6"/><circle cx="319.87" cy="87.42" r="1.6"/><circle cx="320.88" cy="91.41" r="1.6"/><circle cx="321.69" cy="93.27" r="1.6"/><circle cx="323.02" cy="94.48" r="1.6"/><circle cx="323.96" cy="98.46" r="1.6"/><circle cx="325.03" cy="103.05" r="1.6"/><circle cx="326.10" cy="104.04" r="1.6"/><circle cx="327.16" cy="104.93" r="1.6"/><circle cx="328.25" cy="105.68" r="1.6"/><circle cx="329.27" cy="104.03" r="1.6"/><circle cx="330.09" cy="103.92" r="1.6"/><circle cx="331.27" cy="104.57" r="1.6"/><circle cx="332.30" cy="106.08" r="1.6"/><circle cx="333.43" cy="105.91" r="1.6"/><circle cx="334.55" cy="108.65" r="1.6"/><circle cx="335.43" cy="106.33" r="1.6"/><circle cx="336.41" cy="105.87" r="1.6"/><circle cx="337.45" cy="109.99" r="1.6"/><circle cx="338.53" cy="111.06" r="1.6"/><circle cx="339.75" cy="111.60" r="1.6"/><circle cx="340.61" cy="110.34" r="1.6"/><circle cx="341.67" cy="110.12" r="1.6"/><circle cx="342.85" cy="107.77" r="1.6"/><circle cx="344.00" cy="109.39" r="1.6"/><circle cx="345.02" cy="109.08" r="1.6"/><circle cx="346.06" cy="108.71" r="1.6"/><circle cx="347.03" cy="106.55" r="1.6"/><circle cx="348.15" cy="109.28" r="1.6"/><circle cx="349.11" cy="109.12" r="1.6"/><circle cx="350.15" cy="110.47" r="1.6"/><circle cx="351.19" cy="108.03" r="1.6"/><circle cx="352.19" cy="106.93" r="1.6"/><circle cx="353.29" cy="108.03" r="1.6"/><circle cx="354.40" cy="110.74" r="1.6"/><circle cx="355.41" cy="106.63" r="1.6"/><circle cx="356.47" cy="107.66" r="1.6"/><circle cx="357.56" cy="107.25" r="1.6"/><circle cx="358.71" cy="110.08" r="1.6"/><circle cx="359.74" cy="112.01" r="1.6"/><circle cx="360.63" cy="109.18" r="1.6"/><circle cx="361.66" cy="110.03" r="1.6"/><circle cx="362.69" cy="110.93" r="1.6"/><circle cx="363.86" cy="111.02" r="1.6"/><circle cx="364.87" cy="107.01" r="1.6"/><circle cx="365.89" cy="112.38" r="1.6"/><circle cx="366.98" cy="111.11" r="1.6"/><circle cx="368.09" cy="112.98" r="1.6"/><circle cx="369.04" cy="112.97" r="1.6"/><circle cx="370.24" cy="110.99" r="1.6"/><circle cx="371.21" cy="113.38" r="1.6"/><circle cx="372.36" cy="113.52" r="1.6"/><circle cx="373.16" cy="111.82" r="1.6"/><circle cx="374.41" cy="113.97" r="1.6"/><circle cx="375.51" cy="114.27" r="1.6"/><circle cx="376.50" cy="113.78" r="1.6"/><circle cx="377.42" cy="110.92" r="1.6"/><circle cx="378.40" cy="112.16" r="1.6"/><circle cx="379.61" cy="117.00" r="1.6"/><circle cx="380.56" cy="111.79" r="1.6"/><circle cx="381.71" cy="113.41" r="1.6"/><circle cx="382.81" cy="118.52" r="1.6"/><circle cx="383.89" cy="114.53" r="1.6"/><circle cx="384.81" cy="114.80" r="1.6"/><circle cx="385.95" cy="119.32" r="1.6"/><circle cx="387.02" cy="116.93" r="1.6"/><circle cx="388.00" cy="118.21" r="1.6"/><circle cx="388.91" cy="116.27" r="1.6"/><circle cx="390.13" cy="120.49" r="1.6"/><circle cx="391.12" cy="119.85" r="1.6"/><circle cx="392.30" cy="119.18" r="1.6"/><circle cx="393.22" cy="118.46" r="1.6"/><circle cx="394.32" cy="122.47" r="1.6"/><circle cx="395.17" cy="123.67" r="1.6"/><circle cx="396.45" cy="127.71" r="1.6"/><circle cx="397.37" cy="122.69" r="1.6"/><circle cx="398.55" cy="129.89" r="1.6"/><circle cx="399.64" cy="130.11" r="1.6"/><circle cx="400.46" cy="130.89" r="1.6"/><circle cx="401.56" cy="124.77" r="1.6"/><circle cx="402.65" cy="131.85" r="1.6"/><circle cx="403.65" cy="134.12" r="1.6"/><circle cx="404.74" cy="130.76" r="1.6"/><circle cx="405.92" cy="128.31" r="1.6"/><circle cx="406.73" cy="130.74" r="1.6"/><circle cx="407.98" cy="134.69" r="1.6"/><circle cx="408.85" cy="137.97" r="1.6"/><circle cx="409.92" cy="137.59" r="1.6"/><circle cx="411.08" cy="136.92" r="1.6"/><circle cx="412.11" cy="139.48" r="1.6"/><circle cx="413.10" cy="136.66" r="1.6"/><circle cx="414.17" cy="135.74" r="1.6"/><circle cx="415.32" cy="134.62" r="1.6"/><circle cx="416.22" cy="141.85" r="1.6"/><circle cx="417.44" cy="137.18" r="1.6"/><circle cx="418.35" cy="138.40" r="1.6"/><circle cx="419.36" cy="142.98" r="1.6"/><circle cx="420.64" cy="137.20" r="1.6"/><circle cx="421.51" cy="147.10" r="1.6"/><circle cx="422.76" cy="146.49" r="1.6"/><circle cx="423.64" cy="146.01" r="1.6"/><circle cx="424.63" cy="146.19" r="1.6"/><circle cx="425.62" cy="147.27" r="1.6"/><circle cx="426.83" cy="149.64" r="1.6"/><circle cx="427.95" cy="143.17" r="1.6"/><circle cx="428.99" cy="146.63" r="1.6"/><circle cx="429.89" cy="141.18" r="1.6"/><circle cx="430.99" cy="152.20" r="1.6"/><circle cx="431.97" cy="141.72" r="1.6"/><circle cx="433.13" cy="147.33" r="1.6"/><circle cx="434.19" cy="142.87" r="1.6"/><circle cx="435.35" cy="148.62" r="1.6"/><circle cx="436.25" cy="147.71" r="1.6"/><circle cx="437.38" cy="153.46" r="1.6"/><circle cx="438.23" cy="153.57" r="1.6"/><circle cx="439.51" cy="146.08" r="1.6"/><circle cx="440.55" cy="144.75" r="1.6"/></g><g fill="none" stroke="#b5571f" stroke-width="1.25"><circle cx="304.46" cy="2.99" r="1.6"/><circle cx="305.44" cy="8.49" r="1.6"/><circle cx="306.51" cy="14.19" r="1.6"/><circle cx="307.53" cy="19.86" r="1.6"/><circle cx="308.52" cy="27.18" r="1.6"/><circle cx="309.40" cy="31.35" r="1.6"/><circle cx="310.47" cy="34.00" r="1.6"/><circle cx="311.45" cy="36.21" r="1.6"/><circle cx="312.36" cy="37.67" r="1.6"/><circle cx="313.52" cy="39.56" r="1.6"/><circle cx="314.50" cy="39.76" r="1.6"/><circle cx="315.45" cy="41.20" r="1.6"/><circle cx="316.58" cy="44.42" r="1.6"/><circle cx="317.61" cy="46.30" r="1.6"/><circle cx="318.76" cy="47.29" r="1.6"/><circle cx="319.60" cy="49.94" r="1.6"/><circle cx="320.75" cy="50.66" r="1.6"/><circle cx="321.75" cy="52.76" r="1.6"/><circle cx="322.68" cy="56.69" r="1.6"/><circle cx="323.82" cy="58.56" r="1.6"/><circle cx="324.76" cy="62.35" r="1.6"/><circle cx="325.85" cy="60.69" r="1.6"/><circle cx="326.99" cy="65.23" r="1.6"/><circle cx="327.96" cy="63.24" r="1.6"/><circle cx="329.06" cy="68.63" r="1.6"/><circle cx="330.15" cy="69.27" r="1.6"/><circle cx="331.30" cy="69.51" r="1.6"/><circle cx="332.24" cy="70.04" r="1.6"/><circle cx="333.31" cy="68.52" r="1.6"/><circle cx="334.32" cy="71.92" r="1.6"/><circle cx="335.29" cy="70.34" r="1.6"/><circle cx="336.53" cy="72.72" r="1.6"/><circle cx="337.50" cy="71.18" r="1.6"/><circle cx="338.61" cy="71.62" r="1.6"/><circle cx="339.56" cy="72.56" r="1.6"/><circle cx="340.63" cy="74.41" r="1.6"/><circle cx="341.60" cy="71.12" r="1.6"/><circle cx="342.65" cy="72.84" r="1.6"/><circle cx="343.88" cy="75.75" r="1.6"/><circle cx="344.81" cy="73.24" r="1.6"/><circle cx="345.82" cy="72.08" r="1.6"/><circle cx="346.77" cy="71.48" r="1.6"/><circle cx="347.93" cy="73.59" r="1.6"/><circle cx="349.06" cy="75.65" r="1.6"/><circle cx="349.94" cy="75.54" r="1.6"/><circle cx="351.25" cy="73.93" r="1.6"/><circle cx="352.20" cy="71.57" r="1.6"/><circle cx="353.18" cy="74.08" r="1.6"/><circle cx="354.32" cy="73.48" r="1.6"/><circle cx="355.20" cy="76.17" r="1.6"/><circle cx="356.48" cy="72.46" r="1.6"/><circle cx="357.35" cy="73.66" r="1.6"/><circle cx="358.52" cy="77.06" r="1.6"/><circle cx="359.39" cy="73.69" r="1.6"/><circle cx="360.54" cy="74.34" r="1.6"/><circle cx="361.48" cy="79.81" r="1.6"/><circle cx="362.55" cy="75.44" r="1.6"/><circle cx="363.81" cy="80.44" r="1.6"/><circle cx="364.90" cy="77.57" r="1.6"/><circle cx="365.95" cy="78.40" r="1.6"/><circle cx="366.83" cy="80.58" r="1.6"/><circle cx="367.85" cy="80.36" r="1.6"/><circle cx="368.86" cy="75.71" r="1.6"/><circle cx="369.99" cy="82.80" r="1.6"/><circle cx="371.17" cy="76.06" r="1.6"/><circle cx="372.18" cy="83.62" r="1.6"/><circle cx="373.31" cy="79.77" r="1.6"/><circle cx="374.28" cy="84.56" r="1.6"/><circle cx="375.39" cy="77.64" r="1.6"/><circle cx="376.25" cy="85.46" r="1.6"/><circle cx="377.49" cy="80.86" r="1.6"/><circle cx="378.34" cy="84.74" r="1.6"/><circle cx="379.42" cy="86.93" r="1.6"/><circle cx="380.53" cy="86.12" r="1.6"/><circle cx="381.48" cy="85.96" r="1.6"/><circle cx="382.47" cy="85.82" r="1.6"/><circle cx="383.56" cy="84.62" r="1.6"/><circle cx="384.57" cy="82.41" r="1.6"/><circle cx="385.80" cy="82.71" r="1.6"/><circle cx="386.92" cy="90.22" r="1.6"/><circle cx="387.87" cy="86.70" r="1.6"/><circle cx="388.88" cy="86.22" r="1.6"/><circle cx="389.87" cy="84.10" r="1.6"/><circle cx="390.89" cy="84.81" r="1.6"/><circle cx="392.09" cy="86.21" r="1.6"/><circle cx="393.10" cy="90.20" r="1.6"/><circle cx="394.10" cy="91.83" r="1.6"/><circle cx="395.07" cy="87.45" r="1.6"/><circle cx="396.25" cy="90.52" r="1.6"/><circle cx="397.45" cy="91.04" r="1.6"/><circle cx="398.44" cy="93.77" r="1.6"/><circle cx="399.44" cy="88.97" r="1.6"/><circle cx="400.45" cy="90.99" r="1.6"/><circle cx="401.54" cy="91.43" r="1.6"/><circle cx="402.64" cy="91.67" r="1.6"/><circle cx="403.73" cy="97.52" r="1.6"/><circle cx="404.63" cy="96.68" r="1.6"/><circle cx="405.80" cy="97.95" r="1.6"/><circle cx="406.87" cy="93.56" r="1.6"/><circle cx="407.91" cy="97.95" r="1.6"/><circle cx="408.90" cy="96.34" r="1.6"/><circle cx="409.89" cy="99.89" r="1.6"/><circle cx="411.05" cy="97.72" r="1.6"/><circle cx="411.88" cy="102.89" r="1.6"/><circle cx="413.19" cy="106.01" r="1.6"/><circle cx="414.14" cy="101.92" r="1.6"/><circle cx="415.06" cy="98.25" r="1.6"/><circle cx="416.19" cy="108.23" r="1.6"/><circle cx="417.28" cy="108.59" r="1.6"/><circle cx="418.38" cy="104.17" r="1.6"/><circle cx="419.41" cy="102.96" r="1.6"/><circle cx="420.50" cy="105.63" r="1.6"/><circle cx="421.56" cy="110.15" r="1.6"/><circle cx="422.47" cy="102.21" r="1.6"/><circle cx="423.69" cy="102.40" r="1.6"/><circle cx="424.73" cy="111.89" r="1.6"/><circle cx="425.57" cy="111.50" r="1.6"/><circle cx="426.64" cy="112.56" r="1.6"/><circle cx="427.64" cy="108.51" r="1.6"/><circle cx="428.96" cy="116.71" r="1.6"/><circle cx="429.92" cy="105.71" r="1.6"/><circle cx="430.79" cy="111.08" r="1.6"/><circle cx="431.81" cy="108.30" r="1.6"/><circle cx="433.03" cy="119.45" r="1.6"/><circle cx="433.97" cy="115.24" r="1.6"/><circle cx="435.12" cy="120.25" r="1.6"/><circle cx="436.24" cy="125.04" r="1.6"/><circle cx="437.19" cy="121.46" r="1.6"/><circle cx="438.24" cy="122.97" r="1.6"/><circle cx="439.39" cy="120.35" r="1.6"/><circle cx="440.29" cy="119.30" r="1.6"/></g><path d="M300.80 -2.00 C300.92 0.60 301.18 8.72 301.50 13.60 C301.82 18.48 302.27 22.40 302.70 27.30 C303.13 32.20 303.18 36.88 304.10 43.00 C305.02 49.12 307.17 59.37 308.20 64.00 C309.23 68.63 309.55 68.53 310.30 70.80 C311.05 73.07 312.02 76.18 312.70 77.60 C313.38 79.02 313.90 79.18 314.40 79.30 C314.90 79.42 315.25 78.02 315.70 78.30 C316.15 78.58 316.63 79.88 317.10 81.00 C317.57 82.12 317.82 82.97 318.50 85.00 C319.18 87.03 320.30 90.93 321.20 93.20 C322.10 95.47 322.77 96.88 323.90 98.60 C325.03 100.32 326.63 102.13 328.00 103.50 C329.37 104.87 330.28 105.83 332.10 106.80 C333.92 107.77 336.30 108.73 338.90 109.30 C341.50 109.87 344.33 110.02 347.70 110.20 C351.07 110.38 355.30 110.18 359.10 110.40 C362.90 110.62 366.72 110.50 370.50 111.50 C374.28 112.50 378.40 114.45 381.80 116.40 C385.20 118.35 388.40 120.85 390.90 123.20 C393.40 125.55 393.92 127.97 396.80 130.50 C399.68 133.03 404.42 136.32 408.20 138.40 C411.98 140.48 415.72 141.67 419.50 143.00 C423.28 144.33 427.65 145.65 430.90 146.40 C434.15 147.15 437.65 147.32 439.00 147.50" fill="none" stroke="#000" stroke-width="1.5"/><line x1="368.9" y1="77.7" x2="350.3" y2="203" stroke="#4a40b8" stroke-opacity="0.72" stroke-width="2.4" stroke-dasharray="5 2.2"/></g>
<path d="M308.28 267.7V263.10M308.28 0.8V5.40M316.45 267.7V263.10M316.45 0.8V5.40M324.62 267.7V259.70M324.62 0.8V8.80M332.80 267.7V263.10M332.80 0.8V5.40M340.98 267.7V263.10M340.98 0.8V5.40M349.15 267.7V259.70M349.15 0.8V8.80M357.33 267.7V263.10M357.33 0.8V5.40M365.50 267.7V263.10M365.50 0.8V5.40M373.68 267.7V259.70M373.68 0.8V8.80M381.85 267.7V263.10M381.85 0.8V5.40M390.03 267.7V263.10M390.03 0.8V5.40M398.20 267.7V259.70M398.20 0.8V8.80M406.38 267.7V263.10M406.38 0.8V5.40M414.55 267.7V263.10M414.55 0.8V5.40M422.73 267.7V259.70M422.73 0.8V8.80M430.90 267.7V263.10M430.90 0.8V5.40M300.2 11.80H307.70M438.7 11.80H431.20M300.2 38.56H305.00M438.7 38.56H433.90M300.2 31.82H305.00M438.7 31.82H433.90M300.2 27.03H305.00M438.7 27.03H433.90M300.2 23.32H305.00M438.7 23.32H433.90M300.2 20.29H305.00M438.7 20.29H433.90M300.2 17.73H305.00M438.7 17.73H433.90M300.2 15.51H305.00M438.7 15.51H433.90M300.2 13.55H305.00M438.7 13.55H433.90M300.2 50.08H307.70M438.7 50.08H431.20M300.2 76.84H305.00M438.7 76.84H433.90M300.2 70.10H305.00M438.7 70.10H433.90M300.2 65.31H305.00M438.7 65.31H433.90M300.2 61.60H305.00M438.7 61.60H433.90M300.2 58.57H305.00M438.7 58.57H433.90M300.2 56.01H305.00M438.7 56.01H433.90M300.2 53.79H305.00M438.7 53.79H433.90M300.2 51.83H305.00M438.7 51.83H433.90M300.2 88.36H307.70M438.7 88.36H431.20M300.2 115.12H305.00M438.7 115.12H433.90M300.2 108.38H305.00M438.7 108.38H433.90M300.2 103.59H305.00M438.7 103.59H433.90M300.2 99.88H305.00M438.7 99.88H433.90M300.2 96.85H305.00M438.7 96.85H433.90M300.2 94.29H305.00M438.7 94.29H433.90M300.2 92.07H305.00M438.7 92.07H433.90M300.2 90.11H305.00M438.7 90.11H433.90M300.2 126.64H307.70M438.7 126.64H431.20M300.2 153.40H305.00M438.7 153.40H433.90M300.2 146.66H305.00M438.7 146.66H433.90M300.2 141.87H305.00M438.7 141.87H433.90M300.2 138.16H305.00M438.7 138.16H433.90M300.2 135.13H305.00M438.7 135.13H433.90M300.2 132.57H305.00M438.7 132.57H433.90M300.2 130.35H305.00M438.7 130.35H433.90M300.2 128.39H305.00M438.7 128.39H433.90M300.2 164.92H307.70M438.7 164.92H431.20M300.2 191.68H305.00M438.7 191.68H433.90M300.2 184.94H305.00M438.7 184.94H433.90M300.2 180.15H305.00M438.7 180.15H433.90M300.2 176.44H305.00M438.7 176.44H433.90M300.2 173.41H305.00M438.7 173.41H433.90M300.2 170.85H305.00M438.7 170.85H433.90M300.2 168.63H305.00M438.7 168.63H433.90M300.2 166.67H305.00M438.7 166.67H433.90M300.2 203.20H307.70M438.7 203.20H431.20M300.2 229.96H305.00M438.7 229.96H433.90M300.2 223.22H305.00M438.7 223.22H433.90M300.2 218.43H305.00M438.7 218.43H433.90M300.2 214.72H305.00M438.7 214.72H433.90M300.2 211.69H305.00M438.7 211.69H433.90M300.2 209.13H305.00M438.7 209.13H433.90M300.2 206.91H305.00M438.7 206.91H433.90M300.2 204.95H305.00M438.7 204.95H433.90M300.2 241.48H307.70M438.7 241.48H431.20M300.2 261.50H305.00M438.7 261.50H433.90M300.2 256.71H305.00M438.7 256.71H433.90M300.2 253.00H305.00M438.7 253.00H433.90M300.2 249.97H305.00M438.7 249.97H433.90M300.2 247.41H305.00M438.7 247.41H433.90M300.2 245.19H305.00M438.7 245.19H433.90M300.2 243.23H305.00M438.7 243.23H433.90" stroke="#000" stroke-width="1.15" fill="none"/>
<rect x="300.2" y="0.8" width="138.50" height="266.90" fill="none" stroke="#000" stroke-width="1.8"/>
<text x="303.60" y="283.4" font-size="12.7" text-anchor="middle">0</text>
<text x="325.82" y="283.4" font-size="12.7" text-anchor="middle">150</text>
<text x="350.35" y="283.4" font-size="12.7" text-anchor="middle">300</text>
<text x="374.88" y="283.4" font-size="12.7" text-anchor="middle">450</text>
<text x="399.40" y="283.4" font-size="12.7" text-anchor="middle">600</text>
<text x="423.93" y="283.4" font-size="12.7" text-anchor="middle">750</text>
<text x="370" y="304" font-size="16" text-anchor="middle">Energy (meV)</text>
<text x="314.4" y="25" font-size="18">c)</text>
<text transform="translate(11.9 133.8) rotate(-90)" font-size="16.15" text-anchor="middle">Log. intensity (arb. units)</text>
<text x="102.8" y="48.5" font-size="13.5">k<tspan font-size="8.5" dy="3.2">||</tspan><tspan dy="-3.2"> (</tspan><tspan dx="1">Å</tspan><tspan font-size="9.5" dy="-6">-1</tspan><tspan dy="6" dx="0.5">)</tspan></text>
<text x="147.6" y="75.6" font-size="13" text-anchor="end" fill="#b5571f">0.10</text>
<text x="147.6" y="120.8" font-size="13" text-anchor="end" fill="#0ea2f6">0.08</text>
<text x="147.6" y="161.4" font-size="13" text-anchor="end" fill="#ff5705">0.06</text>
<text x="147.6" y="206.6" font-size="13" text-anchor="end" fill="#39a936">0.04</text>
<text x="147.6" y="246.6" font-size="13" text-anchor="end" fill="#777777">0.02</text>
</svg></body></html>
